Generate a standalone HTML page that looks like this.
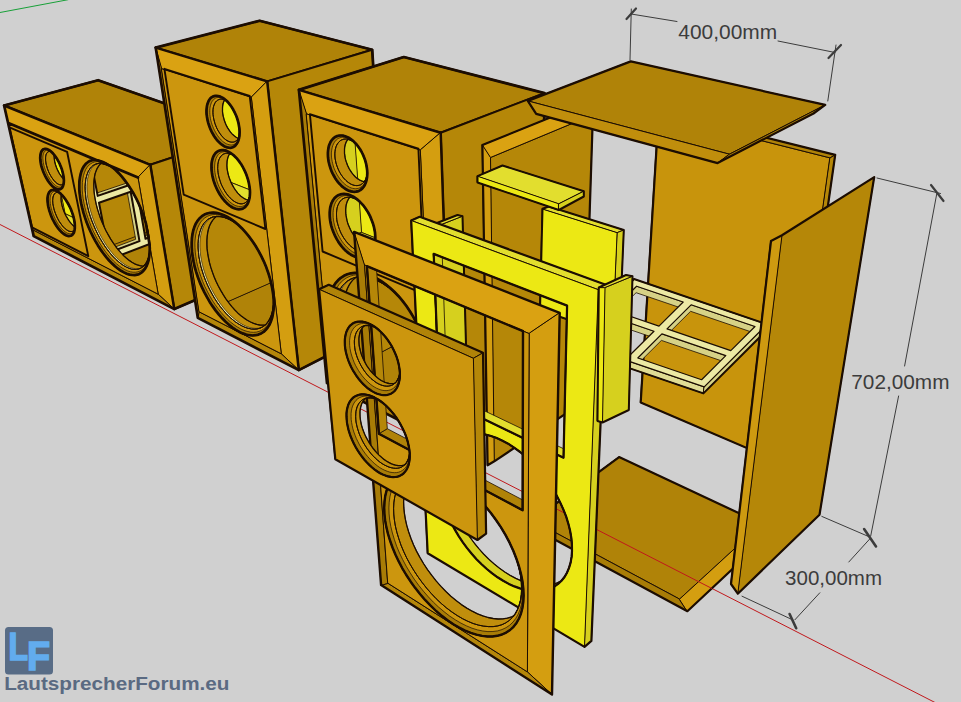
<!DOCTYPE html>
<html><head><meta charset="utf-8"><title>LautsprecherForum.eu</title>
<style>html,body{margin:0;padding:0;background:#D0D0D0;overflow:hidden}svg{display:block}text{font-family:"Liberation Sans",sans-serif}</style></head>
<body>
<svg width="961" height="702" viewBox="0 0 961 702" stroke-linejoin="round" stroke-linecap="round">
<rect width="961" height="702" fill="#D0D0D0"/>
<path d="M0,224.5 L936,703" stroke="#c0181c" stroke-width="1" fill="none"/>
<path d="M-1,12.7 L68,-0.3" stroke="#18a038" stroke-width="1" fill="none"/>
<path d="M97.1,89.3 238.4,139.7 254,264.5 118.1,203.2Z" fill="#CC960E" stroke="#1c0d02" stroke-width="0.8"/>
<path d="M9,113.4 97.1,89.3 118.1,203.2 35.7,231.9Z" fill="#B58708" stroke="#1c0d02" stroke-width="0.8"/>
<path d="M35.7,231.9 169,300.5 254,264.5 118.1,203.2Z" fill="#B08308" stroke="#1c0d02" stroke-width="0.8"/>
<path d="M46.2,122.7 99.9,144.5 117.6,239 65.2,213.7Z" fill="#ECE814" stroke="#1c0d02" stroke-width="0.8"/>
<path d="M18.7,130.6 46.2,122.7 65.2,213.7 39.2,222.7Z" fill="#D6D01E" stroke="#1c0d02" stroke-width="0.8"/>
<path d="M39.2,222.7 91.2,248.9 117.6,239 65.2,213.7Z" fill="#E2DE2E" stroke="#1c0d02" stroke-width="0.8"/>
<path d="M69.6,141.7 134.3,122.2 152.7,230.1 91.9,252.8Z" fill="#B58708" stroke="#1c0d02" stroke-width="0.8"/>
<path d="M108.7,252.7 139.5,241.1 130.7,191.7 127.4,192.9 135.7,239.3 108.1,249.7Z" fill="#D6D286" stroke="#1c0d02" stroke-width="0.8"/>
<path d="M145.5,238.8 174.9,227.7 167.1,179.2 163.7,180.4 171.1,226 144.9,235.8Z" fill="#D6D286" stroke="#1c0d02" stroke-width="0.8"/>
<path d="M97.7,195.9 129.5,185 120.3,133 116.9,134 125.7,183.4 97.1,193Z" fill="#D6D286" stroke="#1c0d02" stroke-width="0.8"/>
<path d="M135.7,182.9 166.1,172.6 157.9,121.5 154.4,122.6 162.2,171 135.2,180.1Z" fill="#D6D286" stroke="#1c0d02" stroke-width="0.8"/>
<path d="M79.4,137.8 162.9,112.7 181.6,231.8 103.7,261.6ZM99,202.7 130.7,191.7 139.5,241.1 108.7,252.7ZM136.9,189.6 167.1,179.2 174.9,227.7 145.5,238.8ZM87.5,143 120.3,133 129.5,185 97.7,195.9ZM126.7,131 157.9,121.5 166.1,172.6 135.7,182.9Z" fill="#ECE9A4" fill-rule="evenodd" stroke="#1c0d02" stroke-width="2"/>
<path d="M4.1,105.5 150.3,164.8 247.9,132.4 98.1,80.2Z" fill="#B08308" stroke="#1c0d02" stroke-width="2"/>
<path d="M150.3,164.8 247.9,132.4 264.5,270.3 174.3,309.1Z" fill="#B58708" stroke="#1c0d02" stroke-width="2"/>
<path d="M4.1,105.5 150.3,164.8 138,177.6 8.3,123Z" fill="#DAA212" stroke="#1c0d02" stroke-width="1"/>
<path d="M150.3,164.8 174.3,309.1 158.2,294.2 138,177.6Z" fill="#D49E10" stroke="#1c0d02" stroke-width="1"/>
<path d="M33.7,236.1 174.3,309.1 158.2,294.2 32.4,229.6Z" fill="#B4860A" stroke="#1c0d02" stroke-width="1"/>
<path d="M4.1,105.5 33.7,236.1 32.4,229.6 8.3,123Z" fill="#A87C06" stroke="#1c0d02" stroke-width="1"/>
<path d="M8.3,123 32.4,229.6 158.2,294.2 149.6,244.8 149.8,248.6 149.6,252.8 149.2,256.7 148.6,260.3 147.6,263.5 146.4,266.4 145,268.9 143.3,270.9 141.5,272.6 139.4,273.9 137.2,274.7 134.7,275.1 132.2,275 129.5,274.6 126.7,273.7 123.9,272.4 121,270.8 118,268.7 115,266.3 112.1,263.6 109.1,260.5 106.2,257.1 103.4,253.5 100.6,249.6 97.9,245.4 95.4,241.1 93,236.6 90.7,232 88.6,227.3 86.7,222.5 85,217.6 83.5,212.8 82.2,207.9 81.1,203.2 80.3,198.5 79.7,193.9 79.3,189.6 79.3,185.3 79.4,181.4 79.9,177.6 80.6,174.2 81.5,171.1 82.7,168.3 84.2,165.8 85.8,163.8 87.8,162.2 89.9,160.9 92.2,160.2 94.7,159.8 95.9,159.9ZM74.1,219.5 74.4,221.4 74.7,223.2 74.8,225 74.8,226.7 74.8,228.3 74.6,229.7 74.3,231.1 74,232.3 73.5,233.3 72.9,234.2 72.3,234.9 71.5,235.5 70.7,235.8 69.8,236 68.9,236.1 67.9,235.9 66.8,235.6 65.7,235.2 64.6,234.5 63.4,233.7 62.3,232.8 61.1,231.7 59.9,230.4 58.8,229.1 57.6,227.6 56.5,226 55.4,224.3 54.4,222.5 53.4,220.7 52.4,218.8 51.6,216.9 50.8,214.9 50.1,212.9 49.4,210.9 48.9,209 48.4,207 48,205.1 47.8,203.3 47.6,201.5 47.5,199.8 47.5,198.2 47.7,196.8 47.9,195.4 48.3,194.2 48.7,193.1 49.2,192.1 49.9,191.4 50.6,190.7 51.4,190.3 52.2,190 53.2,189.9 54.2,190 55.2,190.3 56.3,190.7 57.5,191.3 58.6,192.1 59.8,193 61,194.1 62.3,195.4 63.5,196.8 64.6,198.3 65.8,199.9 66.9,201.7 68,203.5 69,205.4 70,207.3 70.9,209.3 71.7,211.4 72.4,213.4 73.1,215.5 73.6,217.5ZM63.1,174.2 63.4,176 63.7,177.6 63.8,179.2 63.9,180.7 63.8,182.1 63.7,183.4 63.4,184.6 63.1,185.7 62.7,186.7 62.3,187.5 61.7,188.2 61.1,188.7 60.4,189.1 59.6,189.3 58.8,189.4 57.9,189.4 57,189.1 56.1,188.8 55.1,188.2 54.1,187.6 53.1,186.8 52.1,185.9 51.1,184.8 50.1,183.6 49.1,182.4 48.1,181 47.2,179.5 46.3,178 45.4,176.4 44.6,174.7 43.8,173 43.1,171.3 42.5,169.6 41.9,167.8 41.4,166.1 41,164.4 40.7,162.7 40.5,161 40.3,159.5 40.2,158 40.3,156.5 40.4,155.2 40.6,154 40.9,152.9 41.2,151.9 41.7,151 42.2,150.3 42.8,149.7 43.5,149.2 44.2,149 45.1,148.8 45.9,148.9 46.8,149 47.8,149.4 48.8,149.9 49.8,150.5 50.8,151.3 51.8,152.2 52.9,153.3 53.9,154.5 54.9,155.8 55.9,157.2 56.9,158.7 57.8,160.3 58.7,161.9 59.6,163.6 60.3,165.4 61,167.1 61.7,168.9 62.2,170.7 62.7,172.5ZM146,223.7 138,177.6 110.9,166.2 112.4,167.3 115.6,170 118.8,173.2 121.9,176.7 125,180.6 128,184.7 130.9,189.2 133.7,193.8 136.3,198.7 138.7,203.7 140.9,208.9 142.9,214 144.7,219.3Z" fill="#CC960E" fill-rule="evenodd" stroke="#1c0d02" stroke-width="1"/>
<path d="M9.4,127.3 67.1,151.8 88.3,256.2 32,227.4Z" fill="none" stroke="#1c0d02" stroke-width="1.9"/>
<path d="M50.8,151.3 49.8,150.5 48.8,149.9 47.8,149.4 46.8,149 45.9,148.9 45.1,148.8 44.2,149 43.5,149.2 42.8,149.7 42.2,150.3 41.7,151 41.2,151.9 40.9,152.9 40.6,154 40.4,155.2 40.3,156.5 40.2,158 40.3,159.5 40.5,161 40.7,162.7 41,164.4 41.4,166.1 41.9,167.8 42.5,169.6 43.1,171.3 43.8,173 44.6,174.7 45.4,176.4 46.3,178 47.2,179.5 48.1,181 49.1,182.4 50.1,183.6 51.1,184.8 52.1,185.9 53.1,186.8 54.1,187.6 55.1,188.2 56.1,188.8 57,189.1 57.9,189.4 58.8,189.4 59.6,189.3 60.4,189.1 61.1,188.7 61.7,188.2 62.3,187.5 62.7,186.7 63.1,185.7 63.4,184.6 63.7,183.4 63.7,183.3 63.3,183.8 62.8,184.2 62.2,184.6 61.6,184.8 60.9,184.8 60.2,184.8 59.4,184.6 58.6,184.3 57.8,183.9 57,183.3 56.2,182.7 55.3,181.9 54.5,181.1 53.7,180.1 52.9,179 52,177.9 51.3,176.7 50.5,175.4 49.8,174.1 49.1,172.8 48.5,171.4 47.9,169.9 47.4,168.5 47,167 46.6,165.6 46.2,164.2 46,162.8 45.8,161.5 45.6,160.2 45.6,158.9 45.6,157.7 45.7,156.6 45.9,155.6 46.1,154.7 46.4,153.9 46.8,153.2 47.2,152.6 47.8,152.1 48.3,151.8 48.9,151.5 49.6,151.4 50.3,151.5 51.1,151.6 51.2,151.6Z" fill="#A87C06" stroke="#1c0d02" stroke-width="0.7"/>
<path d="M50.8,151.3 50.1,150.8 49.8,150.6 48.9,150.3 48.1,150.2 47.3,150.1 46.6,150.2 45.9,150.5 45.3,150.9 44.7,151.4 44.2,152.1 43.8,152.9 43.5,153.8 43.2,154.8 43,155.9 42.9,157.1 42.9,158.4 43,159.8 43.1,161.2 43.3,162.7 43.6,164.3 44,165.8 44.4,167.4 45,169 45.5,170.6 46.2,172.2 46.9,173.7 47.6,175.3 48.4,176.7 49.2,178.1 50.1,179.5 51,180.7 51.9,181.9 52.8,182.9 53.7,183.9 54.7,184.7 55.6,185.5 56.5,186.1 57.4,186.5 58.2,186.9 59.1,187.1 59.8,187.1 60.6,187.1 61.3,186.8 61.9,186.5 62.5,186 63,185.4 63.4,184.6 63.5,184.5 63.7,183.4 63.7,183.3 63.3,183.8 62.8,184.2 62.2,184.6 61.6,184.8 60.9,184.8 60.2,184.8 59.4,184.6 58.6,184.3 57.8,183.9 57,183.3 56.2,182.7 55.3,181.9 54.5,181.1 53.7,180.1 52.9,179 52,177.9 51.3,176.7 50.5,175.4 49.8,174.1 49.1,172.8 48.5,171.4 47.9,169.9 47.4,168.5 47,167 46.6,165.6 46.2,164.2 46,162.8 45.8,161.5 45.6,160.2 45.6,158.9 45.6,157.7 45.7,156.6 45.9,155.6 46.1,154.7 46.4,153.9 46.8,153.2 47.2,152.6 47.8,152.1 48.3,151.8 48.9,151.5 49.6,151.4 50.3,151.5 51.1,151.6 51.2,151.6Z" fill="#CC960E" stroke="#1c0d02" stroke-width="0.7"/>
<path d="M53.9,154.5 52.9,153.3 51.8,152.2 51.2,151.6 51.1,151.6 50.3,151.5 49.6,151.4 48.9,151.5 48.3,151.8 47.8,152.1 47.2,152.6 46.8,153.2 46.4,153.9 46.1,154.7 45.9,155.6 45.7,156.6 45.6,157.7 45.6,158.9 45.6,160.2 45.8,161.5 46,162.8 46.2,164.2 46.6,165.6 47,167 47.4,168.5 47.9,169.9 48.5,171.4 49.1,172.8 49.8,174.1 50.5,175.4 51.3,176.7 52,177.9 52.9,179 53.7,180.1 54.5,181.1 55.3,181.9 56.2,182.7 57,183.3 57.8,183.9 58.6,184.3 59.4,184.6 60.2,184.8 60.9,184.8 61.6,184.8 62.2,184.6 62.8,184.2 63.3,183.8 63.7,183.3 63.8,182.1 63.9,180.7 63.8,179.2 63.8,179.2 62.9,178.3 62.1,177.4 61.3,176.3 60.5,175.2 59.7,174 59,172.8 58.3,171.4 57.6,170.1 57,168.7 56.4,167.3 55.9,165.8 55.4,164.4 55.1,163 54.7,161.6 54.5,160.2 54.3,158.8 54.2,157.5 54.1,156.3 54.1,155.1 54.2,154.8Z" fill="#C08E0C" stroke="#1c0d02" stroke-width="0.7"/>
<path d="M62.2,170.7 61.7,168.9 61,167.1 60.3,165.4 59.6,163.6 58.7,161.9 57.8,160.3 56.9,158.7 55.9,157.2 54.9,155.8 54.2,154.8 54.1,155.1 54.1,156.3 54.2,157.5 54.3,158.8 54.5,160.2 54.7,161.6 55.1,163 55.4,164.4 55.9,165.8 56.4,167.3 57,168.7 57.6,170.1 58.3,171.4 59,172.8 59.7,174 60.5,175.2 61.3,176.3 62.1,177.4 62.9,178.3 63.8,179.2 63.8,179.2 63.8,179.2 63.7,177.6 63.4,176 63.1,174.2 62.7,172.5Z" fill="none" stroke="#1c0d02" stroke-width="1.3"/>
<path d="M62.7,172.5 62.2,170.7 61.7,168.9 61,167.1 60.3,165.4 59.6,163.6 58.7,161.9 57.8,160.3 56.9,158.7 55.9,157.2 54.9,155.8 53.9,154.5 52.9,153.3 51.8,152.2 51.2,151.6 51.1,151.6 50.3,151.5 49.6,151.4 48.9,151.5 48.3,151.8 47.8,152.1 47.2,152.6 46.8,153.2 46.4,153.9 46.1,154.7 45.9,155.6 45.7,156.6 45.6,157.7 45.6,158.9 45.6,160.2 45.8,161.5 46,162.8 46.2,164.2 46.6,165.6 47,167 47.4,168.5 47.9,169.9 48.5,171.4 49.1,172.8 49.8,174.1 50.5,175.4 51.3,176.7 52,177.9 52.9,179 53.7,180.1 54.5,181.1 55.3,181.9 56.2,182.7 57,183.3 57.8,183.9 58.6,184.3 59.4,184.6 60.2,184.8 60.9,184.8 61.6,184.8 62.2,184.6 62.8,184.2 63.3,183.8 63.7,183.3 63.8,182.1 63.9,180.7 63.8,179.2 63.7,177.6 63.4,176 63.1,174.2Z" fill="none" stroke="#1c0d02" stroke-width="1"/>
<path d="M63.1,174.2 62.7,172.5 62.2,170.7 61.7,168.9 61,167.1 60.3,165.4 59.6,163.6 58.7,161.9 57.8,160.3 56.9,158.7 55.9,157.2 54.9,155.8 53.9,154.5 52.9,153.3 51.8,152.2 50.8,151.3 49.8,150.5 48.8,149.9 47.8,149.4 46.8,149 45.9,148.9 45.1,148.8 44.2,149 43.5,149.2 42.8,149.7 42.2,150.3 41.7,151 41.2,151.9 40.9,152.9 40.6,154 40.4,155.2 40.3,156.5 40.2,158 40.3,159.5 40.5,161 40.7,162.7 41,164.4 41.4,166.1 41.9,167.8 42.5,169.6 43.1,171.3 43.8,173 44.6,174.7 45.4,176.4 46.3,178 47.2,179.5 48.1,181 49.1,182.4 50.1,183.6 51.1,184.8 52.1,185.9 53.1,186.8 54.1,187.6 55.1,188.2 56.1,188.8 57,189.1 57.9,189.4 58.8,189.4 59.6,189.3 60.4,189.1 61.1,188.7 61.7,188.2 62.3,187.5 62.7,186.7 63.1,185.7 63.4,184.6 63.7,183.4 63.8,182.1 63.9,180.7 63.8,179.2 63.7,177.6 63.4,176Z" fill="none" stroke="#1c0d02" stroke-width="1.6"/>
<path d="M58.6,192.1 57.5,191.3 56.3,190.7 55.2,190.3 54.2,190 53.2,189.9 52.2,190 51.4,190.3 50.6,190.7 49.9,191.4 49.2,192.1 48.7,193.1 48.3,194.2 47.9,195.4 47.7,196.8 47.5,198.2 47.5,199.8 47.6,201.5 47.8,203.3 48,205.1 48.4,207 48.9,209 49.4,210.9 50.1,212.9 50.8,214.9 51.6,216.9 52.4,218.8 53.4,220.7 54.4,222.5 55.4,224.3 56.5,226 57.6,227.6 58.8,229.1 59.9,230.4 61.1,231.7 62.3,232.8 63.4,233.7 64.6,234.5 65.7,235.2 66.8,235.6 67.9,235.9 68.9,236.1 69.8,236 70.7,235.8 71.5,235.5 72.3,234.9 72.9,234.2 73.5,233.3 74,232.3 74.3,231.1 74.6,229.7 74.6,229.4 74.3,229.9 73.8,230.5 73.2,231 72.5,231.3 71.7,231.5 70.9,231.5 70,231.4 69.2,231.2 68.2,230.8 67.3,230.2 66.3,229.6 65.3,228.8 64.3,227.8 63.3,226.8 62.3,225.6 61.3,224.3 60.4,223 59.4,221.6 58.5,220.1 57.7,218.5 56.9,216.9 56.2,215.2 55.5,213.6 54.9,211.9 54.3,210.2 53.9,208.5 53.5,206.8 53.2,205.2 52.9,203.7 52.8,202.2 52.7,200.7 52.8,199.4 52.9,198.1 53.1,197 53.4,195.9 53.8,195 54.2,194.2 54.8,193.6 55.4,193 56.1,192.7 56.8,192.4 57.6,192.3 58.5,192.4 59.3,192.6Z" fill="#A87C06" stroke="#1c0d02" stroke-width="0.7"/>
<path d="M58.6,192.1 58.3,191.8 57.3,191.5 56.3,191.2 55.4,191.1 54.5,191.2 53.7,191.5 53,191.9 52.3,192.5 51.7,193.2 51.2,194 50.8,195 50.5,196.2 50.3,197.4 50.2,198.8 50.1,200.3 50.2,201.8 50.3,203.5 50.6,205.2 50.9,206.9 51.4,208.7 51.9,210.6 52.5,212.4 53.1,214.2 53.9,216 54.7,217.8 55.5,219.6 56.5,221.3 57.4,222.9 58.4,224.5 59.5,226 60.5,227.3 61.6,228.6 62.7,229.7 63.8,230.8 64.9,231.6 65.9,232.4 67,233 68,233.4 69,233.7 69.9,233.8 70.8,233.8 71.6,233.6 72.3,233.2 73,232.7 73.6,232 74.2,231.2 74.4,230.6 74.6,229.7 74.6,229.4 74.3,229.9 73.8,230.5 73.2,231 72.5,231.3 71.7,231.5 70.9,231.5 70,231.4 69.2,231.2 68.2,230.8 67.3,230.2 66.3,229.6 65.3,228.8 64.3,227.8 63.3,226.8 62.3,225.6 61.3,224.3 60.4,223 59.4,221.6 58.5,220.1 57.7,218.5 56.9,216.9 56.2,215.2 55.5,213.6 54.9,211.9 54.3,210.2 53.9,208.5 53.5,206.8 53.2,205.2 52.9,203.7 52.8,202.2 52.7,200.7 52.8,199.4 52.9,198.1 53.1,197 53.4,195.9 53.8,195 54.2,194.2 54.8,193.6 55.4,193 56.1,192.7 56.8,192.4 57.6,192.3 58.5,192.4 59.3,192.6Z" fill="#CC960E" stroke="#1c0d02" stroke-width="0.7"/>
<path d="M61,194.1 59.8,193 59.3,192.6 58.5,192.4 57.6,192.3 56.8,192.4 56.1,192.7 55.4,193 54.8,193.6 54.2,194.2 53.8,195 53.4,195.9 53.1,197 52.9,198.1 52.8,199.4 52.7,200.7 52.8,202.2 52.9,203.7 53.2,205.2 53.5,206.8 53.9,208.5 54.3,210.2 54.9,211.9 55.5,213.6 56.2,215.2 56.9,216.9 57.7,218.5 58.5,220.1 59.4,221.6 60.4,223 61.3,224.3 62.3,225.6 63.3,226.8 64.3,227.8 65.3,228.8 66.3,229.6 67.3,230.2 68.2,230.8 69.2,231.2 70,231.4 70.9,231.5 71.7,231.5 72.5,231.3 73.2,231 73.8,230.5 74.3,229.9 74.6,229.4 74.8,228.3 74.8,226.9 74.5,226.7 73.5,225.8 72.5,224.9 71.5,223.9 70.5,222.7 69.5,221.5 68.6,220.1 67.7,218.7 66.8,217.2 65.9,215.6 65.1,214 64.4,212.4 63.7,210.7 63.1,209 62.6,207.4 62.1,205.7 61.8,204.1 61.4,202.4 61.2,200.9 61.1,199.4 61.1,198 61.1,196.6 61.2,195.4 61.4,194.5Z" fill="#C08E0C" stroke="#1c0d02" stroke-width="0.7"/>
<path d="M73.1,215.5 72.4,213.4 71.7,211.4 70.9,209.3 70,207.3 69,205.4 68,203.5 66.9,201.7 65.8,199.9 64.6,198.3 63.5,196.8 62.3,195.4 61.4,194.5 61.2,195.4 61.1,196.6 61.1,198 61.1,199.4 61.2,200.9 61.4,202.4 61.8,204.1 62.1,205.7 62.6,207.4 63.1,209 63.7,210.7 64.4,212.4 65.1,214 65.9,215.6 66.8,217.2 67.7,218.7 68.6,220.1 69.5,221.5 70.5,222.7 71.5,223.9 72.5,224.9 73.5,225.8 74.5,226.7 74.8,226.9 74.8,226.7 74.8,225 74.7,223.2 74.4,221.4 74.1,219.5 73.6,217.5Z" fill="none" stroke="#1c0d02" stroke-width="1.3"/>
<path d="M73.6,217.5 73.1,215.5 72.4,213.4 71.7,211.4 70.9,209.3 70,207.3 69,205.4 68,203.5 66.9,201.7 65.8,199.9 64.6,198.3 63.5,196.8 62.3,195.4 61,194.1 59.8,193 59.3,192.6 58.5,192.4 57.6,192.3 56.8,192.4 56.1,192.7 55.4,193 54.8,193.6 54.2,194.2 53.8,195 53.4,195.9 53.1,197 52.9,198.1 52.8,199.4 52.7,200.7 52.8,202.2 52.9,203.7 53.2,205.2 53.5,206.8 53.9,208.5 54.3,210.2 54.9,211.9 55.5,213.6 56.2,215.2 56.9,216.9 57.7,218.5 58.5,220.1 59.4,221.6 60.4,223 61.3,224.3 62.3,225.6 63.3,226.8 64.3,227.8 65.3,228.8 66.3,229.6 67.3,230.2 68.2,230.8 69.2,231.2 70,231.4 70.9,231.5 71.7,231.5 72.5,231.3 73.2,231 73.8,230.5 74.3,229.9 74.6,229.4 74.8,228.3 74.8,226.7 74.8,225 74.7,223.2 74.4,221.4 74.1,219.5Z" fill="none" stroke="#1c0d02" stroke-width="1"/>
<path d="M74.1,219.5 73.6,217.5 73.1,215.5 72.4,213.4 71.7,211.4 70.9,209.3 70,207.3 69,205.4 68,203.5 66.9,201.7 65.8,199.9 64.6,198.3 63.5,196.8 62.3,195.4 61,194.1 59.8,193 58.6,192.1 57.5,191.3 56.3,190.7 55.2,190.3 54.2,190 53.2,189.9 52.2,190 51.4,190.3 50.6,190.7 49.9,191.4 49.2,192.1 48.7,193.1 48.3,194.2 47.9,195.4 47.7,196.8 47.5,198.2 47.5,199.8 47.6,201.5 47.8,203.3 48,205.1 48.4,207 48.9,209 49.4,210.9 50.1,212.9 50.8,214.9 51.6,216.9 52.4,218.8 53.4,220.7 54.4,222.5 55.4,224.3 56.5,226 57.6,227.6 58.8,229.1 59.9,230.4 61.1,231.7 62.3,232.8 63.4,233.7 64.6,234.5 65.7,235.2 66.8,235.6 67.9,235.9 68.9,236.1 69.8,236 70.7,235.8 71.5,235.5 72.3,234.9 72.9,234.2 73.5,233.3 74,232.3 74.3,231.1 74.6,229.7 74.8,228.3 74.8,226.7 74.8,225 74.7,223.2 74.4,221.4Z" fill="none" stroke="#1c0d02" stroke-width="1.6"/>
<path d="M115.6,170 112.4,167.3 109.2,164.9 106.1,163 103.1,161.5 100.2,160.5 97.4,159.9 94.7,159.8 92.2,160.2 89.9,160.9 87.8,162.2 85.8,163.8 84.2,165.8 82.7,168.3 81.5,171.1 80.6,174.2 79.9,177.6 79.4,181.4 79.3,185.3 79.3,189.6 79.7,193.9 80.3,198.5 81.1,203.2 82.2,207.9 83.5,212.8 85,217.6 86.7,222.5 88.6,227.3 90.7,232 93,236.6 95.4,241.1 97.9,245.4 100.6,249.6 103.4,253.5 106.2,257.1 109.1,260.5 112.1,263.6 115,266.3 118,268.7 121,270.8 123.9,272.4 126.7,273.7 129.5,274.6 132.2,275 134.7,275.1 137.2,274.7 139.4,273.9 141.5,272.6 143.3,270.9 145,268.9 146.4,266.4 147.6,263.5 148.6,260.3 149.2,256.7 149.6,252.8 149.6,252.6 149.1,255.6 148.2,258.6 147.1,261.3 145.8,263.6 144.3,265.5 142.5,267.1 140.6,268.2 138.6,269 136.3,269.4 134,269.4 131.5,269 129,268.2 126.3,267 123.6,265.5 120.9,263.6 118.2,261.4 115.4,258.9 112.7,256.1 110,253 107.4,249.6 104.8,246 102.4,242.2 100,238.2 97.8,234.1 95.7,229.8 93.8,225.4 92,221 90.4,216.5 89,212.1 87.9,207.6 86.9,203.2 86.1,198.9 85.6,194.7 85.3,190.7 85.2,186.8 85.4,183.1 85.8,179.7 86.5,176.6 87.4,173.7 88.5,171.1 89.9,168.9 91.4,167 93.2,165.5 95.2,164.4 97.3,163.7 99.6,163.4 102.1,163.5 104.7,164.1 107.4,165 110.2,166.4 113,168.1 115.6,170.1Z" fill="#A87C06" stroke="#1c0d02" stroke-width="0.7"/>
<path d="M115.6,170 114,168.7 111.1,166.5 108.2,164.7 105.2,163.3 102.4,162.3 99.7,161.7 97.2,161.6 94.8,161.9 92.5,162.7 90.5,163.9 88.6,165.4 87,167.4 85.6,169.7 84.5,172.4 83.5,175.4 82.9,178.7 82.4,182.3 82.3,186.1 82.3,190.1 82.6,194.3 83.2,198.7 84,203.2 85,207.8 86.2,212.4 87.7,217.1 89.4,221.7 91.2,226.4 93.2,230.9 95.4,235.3 97.7,239.7 100.2,243.8 102.7,247.8 105.4,251.5 108.1,255 110.9,258.3 113.7,261.2 116.6,263.9 119.5,266.2 122.3,268.1 125.1,269.7 127.9,271 130.5,271.8 133.1,272.2 135.5,272.2 137.9,271.8 140,271 142,269.8 143.8,268.2 145.4,266.2 146.8,263.8 147.9,261.1 148.8,258 149.4,254.6 149.6,252.8 149.6,252.6 149.1,255.6 148.2,258.6 147.1,261.3 145.8,263.6 144.3,265.5 142.5,267.1 140.6,268.2 138.6,269 136.3,269.4 134,269.4 131.5,269 129,268.2 126.3,267 123.6,265.5 120.9,263.6 118.2,261.4 115.4,258.9 112.7,256.1 110,253 107.4,249.6 104.8,246 102.4,242.2 100,238.2 97.8,234.1 95.7,229.8 93.8,225.4 92,221 90.4,216.5 89,212.1 87.9,207.6 86.9,203.2 86.1,198.9 85.6,194.7 85.3,190.7 85.2,186.8 85.4,183.1 85.8,179.7 86.5,176.6 87.4,173.7 88.5,171.1 89.9,168.9 91.4,167 93.2,165.5 95.2,164.4 97.3,163.7 99.6,163.4 102.1,163.5 104.7,164.1 107.4,165 110.2,166.4 113,168.1 115.6,170.1Z" fill="#CC960E" stroke="#1c0d02" stroke-width="0.7"/>
<path d="M99.6,163.4 97.3,163.7 95.2,164.4 93.2,165.5 91.4,167 89.9,168.9 88.5,171.1 87.4,173.7 86.5,176.6 85.8,179.7 85.4,183.1 85.2,186.8 85.3,190.7 85.6,194.7 86.1,198.9 86.9,203.2 87.9,207.6 89,212.1 90.4,216.5 92,221 93.8,225.4 95.7,229.8 97.8,234.1 100,238.2 102.4,242.2 104.8,246 107.4,249.6 110,253 112.7,256.1 115.4,258.9 118.2,261.4 120.9,263.6 123.6,265.5 126.3,267 129,268.2 131.5,269 134,269.4 136.3,269.4 138.6,269 140.6,268.2 142.5,267.1 143.6,266.1 142.3,266.1 139.9,265.7 137.3,264.9 134.6,263.8 131.9,262.3 129.2,260.4 126.5,258.2 123.7,255.7 121,252.9 118.3,249.8 115.7,246.5 113.2,242.9 110.7,239.1 108.4,235.1 106.1,231 104.1,226.8 102.2,222.4 100.4,218 98.9,213.6 97.5,209.1 96.3,204.7 95.4,200.3 94.6,196 94.1,191.8 93.9,187.8 93.8,184 94,180.3 94.5,176.9 95.1,173.7 96.1,170.9 97.2,168.3 98.6,166.1 100.2,164.2 101,163.5Z" fill="#C08E0C" stroke="#1c0d02" stroke-width="0.7"/>
<path d="M97.3,163.7 95.2,164.4 93.2,165.5 91.4,167 89.9,168.9 88.5,171.1 87.4,173.7 86.5,176.6 85.8,179.7 85.4,183.1 85.2,186.8 85.3,190.7 85.6,194.7 86.1,198.9 86.9,203.2 87.9,207.6 89,212.1 90.4,216.5 92,221 93.8,225.4 95.7,229.8 97.8,234.1 100,238.2 102.4,242.2 104.8,246 107.4,249.6 110,253 112.7,256.1 115.4,258.9 118.2,261.4 120.9,263.6 123.6,265.5 126.3,267 129,268.2 131.5,269 134,269.4 136.3,269.4 138.6,269 140.6,268.2 140.8,268.1 140.2,268.4 138,268.8 135.6,268.7 133.1,268.3 130.6,267.6 127.9,266.4 125.2,264.9 122.5,263 119.8,260.8 117,258.3 114.3,255.5 111.6,252.3 109,249 106.4,245.4 104,241.6 101.6,237.6 99.4,233.5 97.3,229.2 95.4,224.9 93.6,220.4 92.1,216 90.7,211.5 89.5,207 88.5,202.7 87.8,198.4 87.2,194.2 87,190.1 86.9,186.3 87.1,182.6 87.5,179.2 88.2,176 89.1,173.1 90.2,170.6 91.5,168.4 93.1,166.5 94.9,165 96.9,163.9 97.4,163.7Z" fill="#ECE9A4" stroke="#1c0d02" stroke-width="0.6"/>
<path d="M146.2,224.5 144.7,219.3 142.9,214 140.9,208.9 138.7,203.7 136.3,198.7 133.7,193.8 130.9,189.2 128,184.7 125,180.6 121.9,176.7 118.8,173.2 115.6,170.1 113,168.1 110.2,166.4 107.4,165 104.7,164.1 102.1,163.5 101,163.5 100.2,164.2 98.6,166.1 97.2,168.3 96.1,170.9 95.1,173.7 94.5,176.9 94,180.3 93.8,184 93.9,187.8 94.1,191.8 94.6,196 95.4,200.3 96.3,204.7 97.5,209.1 98.9,213.6 100.4,218 102.2,222.4 104.1,226.8 106.1,231 108.4,235.1 110.7,239.1 113.2,242.9 115.7,246.5 118.3,249.8 121,252.9 123.7,255.7 126.5,258.2 129.2,260.4 131.9,262.3 134.6,263.8 137.3,264.9 139.9,265.7 142.3,266.1 143.6,266.1 144.3,265.5 145.8,263.6 147.1,261.3 148.2,258.6 149.1,255.6 149.6,252.6 149.8,248.6 149.6,244.1 149.2,239.5 148.5,234.6 147.5,229.6Z" fill="none" stroke="#1c0d02" stroke-width="1.3"/>
<path d="M147.5,229.6 146.2,224.5 144.7,219.3 142.9,214 140.9,208.9 138.7,203.7 136.3,198.7 133.7,193.8 130.9,189.2 128,184.7 125,180.6 121.9,176.7 118.8,173.2 115.6,170.1 113,168.1 110.2,166.4 107.4,165 104.7,164.1 102.1,163.5 99.6,163.4 97.3,163.7 95.2,164.4 93.2,165.5 91.4,167 89.9,168.9 88.5,171.1 87.4,173.7 86.5,176.6 85.8,179.7 85.4,183.1 85.2,186.8 85.3,190.7 85.6,194.7 86.1,198.9 86.9,203.2 87.9,207.6 89,212.1 90.4,216.5 92,221 93.8,225.4 95.7,229.8 97.8,234.1 100,238.2 102.4,242.2 104.8,246 107.4,249.6 110,253 112.7,256.1 115.4,258.9 118.2,261.4 120.9,263.6 123.6,265.5 126.3,267 129,268.2 131.5,269 134,269.4 136.3,269.4 138.6,269 140.6,268.2 142.5,267.1 144.3,265.5 145.8,263.6 147.1,261.3 148.2,258.6 149.1,255.6 149.6,252.6 149.8,248.6 149.6,244.1 149.2,239.5 148.5,234.6Z" fill="none" stroke="#1c0d02" stroke-width="1"/>
<path d="M148.5,234.6 147.5,229.6 146.2,224.5 144.7,219.3 142.9,214 140.9,208.9 138.7,203.7 136.3,198.7 133.7,193.8 130.9,189.2 128,184.7 125,180.6 121.9,176.7 118.8,173.2 115.6,170 112.4,167.3 109.2,164.9 106.1,163 103.1,161.5 100.2,160.5 97.4,159.9 94.7,159.8 92.2,160.2 89.9,160.9 87.8,162.2 85.8,163.8 84.2,165.8 82.7,168.3 81.5,171.1 80.6,174.2 79.9,177.6 79.4,181.4 79.3,185.3 79.3,189.6 79.7,193.9 80.3,198.5 81.1,203.2 82.2,207.9 83.5,212.8 85,217.6 86.7,222.5 88.6,227.3 90.7,232 93,236.6 95.4,241.1 97.9,245.4 100.6,249.6 103.4,253.5 106.2,257.1 109.1,260.5 112.1,263.6 115,266.3 118,268.7 121,270.8 123.9,272.4 126.7,273.7 129.5,274.6 132.2,275 134.7,275.1 137.2,274.7 139.4,273.9 141.5,272.6 143.3,270.9 145,268.9 146.4,266.4 147.6,263.5 148.6,260.3 149.2,256.7 149.6,252.8 149.8,248.6 149.6,244.1 149.2,239.5Z" fill="none" stroke="#1c0d02" stroke-width="1.6"/>
<path d="M4.1,105.5 L150.3,164.8" stroke="#1c0d02" stroke-width="2.5" fill="none"/>
<path d="M150.3,164.8 L174.3,309.1" stroke="#1c0d02" stroke-width="2.5" fill="none"/>
<path d="M4.1,105.5 33.7,236.1 174.3,309.1 264.5,270.3 247.9,132.4 98.1,80.2ZM138,177.6 110.9,166.2 112.4,167.3 115.6,170 118.8,173.2 121.9,176.7 125,180.6 128,184.7 130.9,189.2 133.7,193.8 136.3,198.7 138.7,203.7 140.9,208.9 142.9,214 144.7,219.3 146,223.7 149.6,244.8 149.8,248.6 149.6,252.8 149.2,256.7 148.6,260.3 147.6,263.5 146.4,266.4 145,268.9 143.3,270.9 141.5,272.6 139.4,273.9 137.2,274.7 134.7,275.1 132.2,275 129.5,274.6 126.7,273.7 123.9,272.4 121,270.8 118,268.7 115,266.3 112.1,263.6 109.1,260.5 106.2,257.1 103.4,253.5 100.6,249.6 97.9,245.4 95.4,241.1 93,236.6 90.7,232 88.6,227.3 86.7,222.5 85,217.6 83.5,212.8 82.2,207.9 81.1,203.2 80.3,198.5 79.7,193.9 79.3,189.6 79.3,185.3 79.4,181.4 79.9,177.6 80.6,174.2 81.5,171.1 82.7,168.3 84.2,165.8 85.8,163.8 87.8,162.2 89.9,160.9 92.2,160.2 94.7,159.8 95.9,159.9 8.3,123ZM74.8,225 74.8,226.7 74.8,228.3 74.6,229.7 74.3,231.1 74,232.3 73.5,233.3 72.9,234.2 72.3,234.9 71.5,235.5 70.7,235.8 69.8,236 68.9,236.1 67.9,235.9 66.8,235.6 65.7,235.2 64.6,234.5 63.4,233.7 62.3,232.8 61.1,231.7 59.9,230.4 58.8,229.1 57.6,227.6 56.5,226 55.4,224.3 54.4,222.5 53.4,220.7 52.4,218.8 51.6,216.9 50.8,214.9 50.1,212.9 49.4,210.9 48.9,209 48.4,207 48,205.1 47.8,203.3 47.6,201.5 47.5,199.8 47.5,198.2 47.7,196.8 47.9,195.4 48.3,194.2 48.7,193.1 49.2,192.1 49.9,191.4 50.6,190.7 51.4,190.3 52.2,190 53.2,189.9 54.2,190 55.2,190.3 56.3,190.7 57.5,191.3 58.6,192.1 59.8,193 61,194.1 62.3,195.4 63.5,196.8 64.6,198.3 65.8,199.9 66.9,201.7 68,203.5 69,205.4 70,207.3 70.9,209.3 71.7,211.4 72.4,213.4 73.1,215.5 73.6,217.5 74.1,219.5 74.4,221.4 74.7,223.2ZM63.8,179.2 63.9,180.7 63.8,182.1 63.7,183.4 63.4,184.6 63.1,185.7 62.7,186.7 62.3,187.5 61.7,188.2 61.1,188.7 60.4,189.1 59.6,189.3 58.8,189.4 57.9,189.4 57,189.1 56.1,188.8 55.1,188.2 54.1,187.6 53.1,186.8 52.1,185.9 51.1,184.8 50.1,183.6 49.1,182.4 48.1,181 47.2,179.5 46.3,178 45.4,176.4 44.6,174.7 43.8,173 43.1,171.3 42.5,169.6 41.9,167.8 41.4,166.1 41,164.4 40.7,162.7 40.5,161 40.3,159.5 40.2,158 40.3,156.5 40.4,155.2 40.6,154 40.9,152.9 41.2,151.9 41.7,151 42.2,150.3 42.8,149.7 43.5,149.2 44.2,149 45.1,148.8 45.9,148.9 46.8,149 47.8,149.4 48.8,149.9 49.8,150.5 50.8,151.3 51.8,152.2 52.9,153.3 53.9,154.5 54.9,155.8 55.9,157.2 56.9,158.7 57.8,160.3 58.7,161.9 59.6,163.6 60.3,165.4 61,167.1 61.7,168.9 62.2,170.7 62.7,172.5 63.1,174.2 63.4,176 63.7,177.6Z" fill="none" stroke="#1c0d02" stroke-width="2.7"/>
<path d="M259.2,31.5 360.8,58.5 378.4,317.6 286.3,276.3Z" fill="#CC960E" stroke="#1c0d02" stroke-width="0.8"/>
<path d="M161.9,57.3 259.2,31.5 286.3,276.3 201.3,313.7Z" fill="#B58708" stroke="#1c0d02" stroke-width="0.8"/>
<path d="M201.3,313.7 292.8,360.6 378.4,317.6 286.3,276.3Z" fill="#B08308" stroke="#1c0d02" stroke-width="0.8"/>
<path d="M205.9,64.6 284.9,88.6 297.1,208.5 221.4,178.7Z" fill="#ECE814" stroke="#1c0d02" stroke-width="0.8"/>
<path d="M175.3,73.1 205.9,64.6 221.4,178.7 192.6,189Z" fill="#D6D01E" stroke="#1c0d02" stroke-width="0.8"/>
<path d="M192.6,189 268.1,220 297.1,208.5 221.4,178.7Z" fill="#E2DE2E" stroke="#1c0d02" stroke-width="0.8"/>
<path d="M155.7,47.6 267.2,81.4 372.2,49.7 259.6,20.8Z" fill="#B08308" stroke="#1c0d02" stroke-width="2"/>
<path d="M267.2,81.4 372.2,49.7 389.4,323.8 298.8,370.1Z" fill="#B58708" stroke="#1c0d02" stroke-width="2"/>
<path d="M155.7,47.6 267.2,81.4 251.3,97.4 161.7,68.8Z" fill="#DAA212" stroke="#1c0d02" stroke-width="1"/>
<path d="M267.2,81.4 298.8,370.1 281.3,353.8 251.3,97.4Z" fill="#D49E10" stroke="#1c0d02" stroke-width="1"/>
<path d="M197.8,317.9 298.8,370.1 281.3,353.8 199.3,311.9Z" fill="#B4860A" stroke="#1c0d02" stroke-width="1"/>
<path d="M155.7,47.6 197.8,317.9 199.3,311.9 161.7,68.8Z" fill="#A87C06" stroke="#1c0d02" stroke-width="1"/>
<path d="M161.7,68.8 251.3,97.4 281.3,353.8 199.3,311.9ZM239.3,127.7 238.9,125.4 238.5,123.1 237.9,120.8 237.2,118.5 236.4,116.3 235.4,114 234.4,111.9 233.3,109.8 232.1,107.8 230.9,105.9 229.5,104.1 228.2,102.5 226.8,101 225.3,99.7 223.9,98.6 222.4,97.6 220.9,96.9 219.5,96.3 218.1,96 216.7,95.8 215.4,95.8 214.2,96.1 213,96.5 211.9,97.1 210.8,97.9 209.9,98.9 209.1,100.1 208.4,101.4 207.8,102.9 207.3,104.5 206.9,106.3 206.7,108.2 206.5,110.1 206.5,112.2 206.6,114.3 206.9,116.4 207.3,118.7 207.7,120.9 208.3,123.1 209,125.3 209.8,127.5 210.7,129.7 211.7,131.8 212.8,133.8 213.9,135.7 215.1,137.6 216.4,139.3 217.7,140.9 219.1,142.3 220.5,143.6 221.9,144.7 223.3,145.7 224.7,146.5 226.2,147.1 227.5,147.5 228.9,147.7 230.2,147.8 231.5,147.6 232.7,147.3 233.8,146.7 234.9,146 235.8,145 236.7,143.9 237.4,142.7 238.1,141.2 238.6,139.7 239.1,137.9 239.4,136.1 239.5,134.1 239.6,132 239.5,129.9ZM249.6,187.5 249.2,184.9 248.7,182.3 248,179.7 247.2,177.1 246.3,174.5 245.2,171.9 244,169.4 242.8,167 241.4,164.6 239.9,162.4 238.4,160.4 236.8,158.4 235.1,156.7 233.4,155.1 231.7,153.8 230,152.6 228.3,151.7 226.7,150.9 225,150.4 223.4,150.2 221.9,150.1 220.4,150.3 219,150.7 217.7,151.4 216.5,152.2 215.4,153.3 214.5,154.5 213.6,156 212.9,157.6 212.4,159.4 211.9,161.3 211.6,163.4 211.5,165.6 211.5,167.9 211.6,170.3 211.9,172.7 212.3,175.2 212.8,177.7 213.5,180.3 214.3,182.8 215.2,185.3 216.3,187.8 217.4,190.2 218.7,192.5 220,194.7 221.4,196.9 222.9,198.9 224.4,200.7 226,202.4 227.6,204 229.2,205.3 230.9,206.5 232.5,207.5 234.2,208.3 235.8,208.8 237.4,209.2 238.9,209.3 240.4,209.2 241.8,208.9 243.1,208.4 244.3,207.7 245.5,206.7 246.5,205.5 247.4,204.2 248.2,202.6 248.8,200.9 249.3,199 249.7,196.9 249.9,194.7 250,192.4 249.9,190ZM273.2,294.5 272.4,289.2 271.3,283.8 269.9,278.2 268.2,272.7 266.2,267.1 263.9,261.6 261.3,256.2 258.5,250.9 255.5,245.8 252.3,241 248.9,236.4 245.4,232.2 241.8,228.2 238.2,224.7 234.5,221.6 230.7,218.9 227.1,216.7 223.4,215 219.9,213.7 216.5,212.9 213.2,212.6 210.1,212.8 207.1,213.5 204.4,214.6 201.9,216.2 199.7,218.2 197.7,220.6 195.9,223.4 194.5,226.6 193.3,230.2 192.5,234 191.9,238.2 191.7,242.5 191.7,247.1 192,251.9 192.7,256.8 193.6,261.8 194.7,267 196.2,272.1 197.9,277.2 199.8,282.4 202,287.4 204.4,292.4 207,297.2 209.7,301.9 212.7,306.4 215.7,310.6 218.9,314.6 222.2,318.3 225.6,321.8 229,324.8 232.5,327.6 235.9,329.9 239.4,331.9 242.8,333.4 246.1,334.5 249.4,335.2 252.6,335.5 255.6,335.2 258.4,334.6 261.1,333.4 263.6,331.9 265.8,329.8 267.8,327.4 269.6,324.5 271,321.2 272.2,317.5 273,313.5 273.6,309.2 273.8,304.5 273.7,299.6Z" fill="#CC960E" fill-rule="evenodd" stroke="#1c0d02" stroke-width="1"/>
<path d="M164.4,68.8 249.7,96 265.4,229 183.7,194.7Z" fill="none" stroke="#1c0d02" stroke-width="1.9"/>
<path d="M226.8,101 225.3,99.7 223.9,98.6 222.4,97.6 220.9,96.9 219.5,96.3 218.1,96 216.7,95.8 215.4,95.8 214.2,96.1 213,96.5 211.9,97.1 210.8,97.9 209.9,98.9 209.1,100.1 208.4,101.4 207.8,102.9 207.3,104.5 206.9,106.3 206.7,108.2 206.5,110.1 206.5,112.2 206.6,114.3 206.9,116.4 207.3,118.7 207.7,120.9 208.3,123.1 209,125.3 209.8,127.5 210.7,129.7 211.7,131.8 212.8,133.8 213.9,135.7 215.1,137.6 216.4,139.3 217.7,140.9 219.1,142.3 220.5,143.6 221.9,144.7 223.3,145.7 224.7,146.5 226.2,147.1 227.5,147.5 228.9,147.7 230.2,147.8 231.5,147.6 232.7,147.3 233.8,146.7 234.9,146 235.8,145 236.7,143.9 237.4,142.7 238.1,141.2 238.6,139.7 239.1,137.9 239.4,136.1 239.4,136 239.1,136.7 238.6,137.9 237.9,138.9 237.2,139.9 236.4,140.6 235.6,141.2 234.6,141.7 233.6,142 232.6,142.1 231.5,142.1 230.4,141.9 229.2,141.6 228.1,141.1 226.9,140.5 225.7,139.7 224.5,138.7 223.4,137.7 222.2,136.5 221.1,135.1 220.1,133.7 219.1,132.2 218.1,130.6 217.2,128.9 216.4,127.2 215.7,125.4 215,123.6 214.5,121.8 214,119.9 213.6,118.1 213.3,116.2 213.1,114.5 213,112.7 213,111 213.1,109.4 213.3,107.8 213.6,106.4 214.1,105.1 214.6,103.8 215.2,102.7 215.8,101.8 216.6,101 217.5,100.3 218.4,99.8 219.4,99.4 220.4,99.2 221.5,99.2 222.6,99.4 223.8,99.7 225,100.1 226.2,100.8 227,101.3Z" fill="#A87C06" stroke="#1c0d02" stroke-width="0.7"/>
<path d="M226.8,101 226.1,100.4 225.6,100.1 224.3,99.2 223,98.5 221.7,98 220.4,97.7 219.1,97.5 217.9,97.5 216.8,97.7 215.7,98.1 214.7,98.7 213.7,99.5 212.9,100.4 212.1,101.4 211.5,102.6 210.9,104 210.5,105.5 210.1,107.1 209.9,108.8 209.8,110.6 209.8,112.4 209.9,114.4 210.1,116.3 210.4,118.4 210.8,120.4 211.4,122.4 212,124.5 212.8,126.5 213.6,128.5 214.5,130.4 215.5,132.2 216.5,134 217.6,135.6 218.8,137.2 220,138.7 221.2,140 222.5,141.2 223.8,142.2 225.1,143.1 226.4,143.8 227.7,144.3 229,144.7 230.2,144.9 231.4,145 232.6,144.8 233.7,144.5 234.7,144 235.6,143.3 236.5,142.4 237.3,141.4 238,140.3 238.6,139 239.1,137.5 239.2,137.2 239.4,136.1 239.4,136 239.1,136.7 238.6,137.9 237.9,138.9 237.2,139.9 236.4,140.6 235.6,141.2 234.6,141.7 233.6,142 232.6,142.1 231.5,142.1 230.4,141.9 229.2,141.6 228.1,141.1 226.9,140.5 225.7,139.7 224.5,138.7 223.4,137.7 222.2,136.5 221.1,135.1 220.1,133.7 219.1,132.2 218.1,130.6 217.2,128.9 216.4,127.2 215.7,125.4 215,123.6 214.5,121.8 214,119.9 213.6,118.1 213.3,116.2 213.1,114.5 213,112.7 213,111 213.1,109.4 213.3,107.8 213.6,106.4 214.1,105.1 214.6,103.8 215.2,102.7 215.8,101.8 216.6,101 217.5,100.3 218.4,99.8 219.4,99.4 220.4,99.2 221.5,99.2 222.6,99.4 223.8,99.7 225,100.1 226.2,100.8 227,101.3Z" fill="#CC960E" stroke="#1c0d02" stroke-width="0.7"/>
<path d="M223.8,99.7 222.6,99.4 221.5,99.2 220.4,99.2 219.4,99.4 218.4,99.8 217.5,100.3 216.6,101 215.8,101.8 215.2,102.7 214.6,103.8 214.1,105.1 213.6,106.4 213.3,107.8 213.1,109.4 213,111 213,112.7 213.1,114.5 213.3,116.2 213.6,118.1 214,119.9 214.5,121.8 215,123.6 215.7,125.4 216.4,127.2 217.2,128.9 218.1,130.6 219.1,132.2 220.1,133.7 221.1,135.1 222.2,136.5 223.4,137.7 224.5,138.7 225.7,139.7 226.9,140.5 228.1,141.1 229.2,141.6 230.4,141.9 231.5,142.1 232.6,142.1 233.6,142 234.6,141.7 235.6,141.2 236.4,140.6 237.2,139.9 237.9,138.9 238.3,138.3 237.4,138 236.2,137.3 235.1,136.5 233.9,135.6 232.7,134.6 231.6,133.4 230.5,132.1 229.5,130.7 228.5,129.2 227.5,127.6 226.6,125.9 225.8,124.2 225.1,122.4 224.4,120.6 223.9,118.8 223.4,116.9 223,115.1 222.7,113.3 222.5,111.5 222.5,109.8 222.5,108.1 222.6,106.5 222.8,104.9 223.1,103.5 223.6,102.1 224.1,100.9 224.6,100Z" fill="#C08E0C" stroke="#1c0d02" stroke-width="0.7"/>
<path d="M238.5,123.1 237.9,120.8 237.2,118.5 236.4,116.3 235.4,114 234.4,111.9 233.3,109.8 232.1,107.8 230.9,105.9 229.5,104.1 228.2,102.5 227,101.3 226.2,100.8 225,100.1 224.6,100 224.1,100.9 223.6,102.1 223.1,103.5 222.8,104.9 222.6,106.5 222.5,108.1 222.5,109.8 222.5,111.5 222.7,113.3 223,115.1 223.4,116.9 223.9,118.8 224.4,120.6 225.1,122.4 225.8,124.2 226.6,125.9 227.5,127.6 228.5,129.2 229.5,130.7 230.5,132.1 231.6,133.4 232.7,134.6 233.9,135.6 235.1,136.5 236.2,137.3 237.4,138 238.3,138.3 238.6,137.9 239.1,136.7 239.4,136 239.5,134.1 239.6,132 239.5,129.9 239.3,127.7 238.9,125.4Z" fill="none" stroke="#1c0d02" stroke-width="1.3"/>
<path d="M238.9,125.4 238.5,123.1 237.9,120.8 237.2,118.5 236.4,116.3 235.4,114 234.4,111.9 233.3,109.8 232.1,107.8 230.9,105.9 229.5,104.1 228.2,102.5 227,101.3 226.2,100.8 225,100.1 223.8,99.7 222.6,99.4 221.5,99.2 220.4,99.2 219.4,99.4 218.4,99.8 217.5,100.3 216.6,101 215.8,101.8 215.2,102.7 214.6,103.8 214.1,105.1 213.6,106.4 213.3,107.8 213.1,109.4 213,111 213,112.7 213.1,114.5 213.3,116.2 213.6,118.1 214,119.9 214.5,121.8 215,123.6 215.7,125.4 216.4,127.2 217.2,128.9 218.1,130.6 219.1,132.2 220.1,133.7 221.1,135.1 222.2,136.5 223.4,137.7 224.5,138.7 225.7,139.7 226.9,140.5 228.1,141.1 229.2,141.6 230.4,141.9 231.5,142.1 232.6,142.1 233.6,142 234.6,141.7 235.6,141.2 236.4,140.6 237.2,139.9 237.9,138.9 238.6,137.9 239.1,136.7 239.4,136 239.5,134.1 239.6,132 239.5,129.9 239.3,127.7Z" fill="none" stroke="#1c0d02" stroke-width="1"/>
<path d="M239.3,127.7 238.9,125.4 238.5,123.1 237.9,120.8 237.2,118.5 236.4,116.3 235.4,114 234.4,111.9 233.3,109.8 232.1,107.8 230.9,105.9 229.5,104.1 228.2,102.5 226.8,101 225.3,99.7 223.9,98.6 222.4,97.6 220.9,96.9 219.5,96.3 218.1,96 216.7,95.8 215.4,95.8 214.2,96.1 213,96.5 211.9,97.1 210.8,97.9 209.9,98.9 209.1,100.1 208.4,101.4 207.8,102.9 207.3,104.5 206.9,106.3 206.7,108.2 206.5,110.1 206.5,112.2 206.6,114.3 206.9,116.4 207.3,118.7 207.7,120.9 208.3,123.1 209,125.3 209.8,127.5 210.7,129.7 211.7,131.8 212.8,133.8 213.9,135.7 215.1,137.6 216.4,139.3 217.7,140.9 219.1,142.3 220.5,143.6 221.9,144.7 223.3,145.7 224.7,146.5 226.2,147.1 227.5,147.5 228.9,147.7 230.2,147.8 231.5,147.6 232.7,147.3 233.8,146.7 234.9,146 235.8,145 236.7,143.9 237.4,142.7 238.1,141.2 238.6,139.7 239.1,137.9 239.4,136.1 239.5,134.1 239.6,132 239.5,129.9Z" fill="none" stroke="#1c0d02" stroke-width="1.6"/>
<path d="M233.4,155.1 231.7,153.8 230,152.6 228.3,151.7 226.7,150.9 225,150.4 223.4,150.2 221.9,150.1 220.4,150.3 219,150.7 217.7,151.4 216.5,152.2 215.4,153.3 214.5,154.5 213.6,156 212.9,157.6 212.4,159.4 211.9,161.3 211.6,163.4 211.5,165.6 211.5,167.9 211.6,170.3 211.9,172.7 212.3,175.2 212.8,177.7 213.5,180.3 214.3,182.8 215.2,185.3 216.3,187.8 217.4,190.2 218.7,192.5 220,194.7 221.4,196.9 222.9,198.9 224.4,200.7 226,202.4 227.6,204 229.2,205.3 230.9,206.5 232.5,207.5 234.2,208.3 235.8,208.8 237.4,209.2 238.9,209.3 240.4,209.2 241.8,208.9 243.1,208.4 244.3,207.7 245.5,206.7 246.5,205.5 247.4,204.2 248.2,202.6 248.8,200.9 249.3,199 249.7,196.9 249.7,196.3 249.7,196.5 249.1,198 248.5,199.3 247.7,200.5 246.8,201.5 245.9,202.3 244.8,203 243.7,203.4 242.5,203.7 241.2,203.8 239.9,203.7 238.5,203.4 237.2,202.9 235.7,202.2 234.3,201.4 232.9,200.4 231.5,199.2 230.1,197.9 228.8,196.5 227.5,194.9 226.2,193.2 225,191.3 223.9,189.4 222.8,187.4 221.8,185.4 220.9,183.3 220.2,181.1 219.5,179 218.9,176.8 218.4,174.6 218.1,172.5 217.9,170.4 217.7,168.4 217.8,166.4 217.9,164.5 218.2,162.8 218.5,161.1 219,159.6 219.7,158.2 220.4,157 221.2,155.9 222.2,155 223.2,154.3 224.3,153.8 225.5,153.4 226.7,153.3 228.1,153.3 229.4,153.5 230.8,154 232.3,154.6 233.7,155.4 233.7,155.4Z" fill="#A87C06" stroke="#1c0d02" stroke-width="0.7"/>
<path d="M233.4,155.1 232.9,154.7 231.9,154 230.3,153.1 228.7,152.5 227.2,152 225.7,151.7 224.3,151.7 222.9,151.9 221.7,152.2 220.5,152.8 219.3,153.6 218.3,154.6 217.4,155.8 216.7,157.1 216,158.6 215.5,160.3 215,162.1 214.8,164 214.6,166 214.6,168.1 214.7,170.3 215,172.6 215.4,174.9 215.9,177.3 216.5,179.6 217.2,182 218.1,184.3 219,186.6 220.1,188.8 221.3,191 222.5,193 223.8,195 225.2,196.9 226.6,198.6 228,200.2 229.5,201.6 231.1,202.9 232.6,204 234.1,204.9 235.7,205.6 237.2,206.1 238.6,206.4 240.1,206.6 241.4,206.5 242.7,206.2 244,205.7 245.1,205 246.1,204.1 247.1,203 247.9,201.7 248.7,200.3 249.2,198.7 249.6,197.3 249.7,196.9 249.7,196.3 249.7,196.5 249.1,198 248.5,199.3 247.7,200.5 246.8,201.5 245.9,202.3 244.8,203 243.7,203.4 242.5,203.7 241.2,203.8 239.9,203.7 238.5,203.4 237.2,202.9 235.7,202.2 234.3,201.4 232.9,200.4 231.5,199.2 230.1,197.9 228.8,196.5 227.5,194.9 226.2,193.2 225,191.3 223.9,189.4 222.8,187.4 221.8,185.4 220.9,183.3 220.2,181.1 219.5,179 218.9,176.8 218.4,174.6 218.1,172.5 217.9,170.4 217.7,168.4 217.8,166.4 217.9,164.5 218.2,162.8 218.5,161.1 219,159.6 219.7,158.2 220.4,157 221.2,155.9 222.2,155 223.2,154.3 224.3,153.8 225.5,153.4 226.7,153.3 228.1,153.3 229.4,153.5 230.8,154 232.3,154.6 233.7,155.4 233.7,155.4Z" fill="#CC960E" stroke="#1c0d02" stroke-width="0.7"/>
<path d="M229.4,153.5 228.1,153.3 226.7,153.3 225.5,153.4 224.3,153.8 223.2,154.3 222.2,155 221.2,155.9 220.4,157 219.7,158.2 219,159.6 218.5,161.1 218.2,162.8 217.9,164.5 217.8,166.4 217.7,168.4 217.9,170.4 218.1,172.5 218.4,174.6 218.9,176.8 219.5,179 220.2,181.1 220.9,183.3 221.8,185.4 222.8,187.4 223.9,189.4 225,191.3 226.2,193.2 227.5,194.9 228.8,196.5 230.1,197.9 231.5,199.2 232.9,200.4 234.3,201.4 235.7,202.2 237.2,202.9 238.5,203.4 239.9,203.7 241.2,203.8 242.5,203.7 243.7,203.4 244.8,203 245.9,202.3 246.8,201.5 247.7,200.5 248,200 247.6,200 246.2,199.5 244.8,198.8 243.4,198 242,197 240.6,195.9 239.2,194.6 237.8,193.1 236.5,191.5 235.3,189.8 234.1,188 233,186.1 231.9,184.1 230.9,182.1 230.1,180 229.3,177.9 228.6,175.7 228,173.5 227.6,171.4 227.2,169.3 227,167.2 226.9,165.2 227,163.2 227.1,161.4 227.4,159.6 227.8,157.9 228.3,156.4 228.9,155 229.6,153.8 229.8,153.6Z" fill="#C08E0C" stroke="#1c0d02" stroke-width="0.7"/>
<path d="M248.7,182.3 248,179.7 247.2,177.1 246.3,174.5 245.2,171.9 244,169.4 242.8,167 241.4,164.6 239.9,162.4 238.4,160.4 236.8,158.4 235.1,156.7 233.7,155.4 233.7,155.4 232.3,154.6 230.8,154 229.8,153.6 229.6,153.8 228.9,155 228.3,156.4 227.8,157.9 227.4,159.6 227.1,161.4 227,163.2 226.9,165.2 227,167.2 227.2,169.3 227.6,171.4 228,173.5 228.6,175.7 229.3,177.9 230.1,180 230.9,182.1 231.9,184.1 233,186.1 234.1,188 235.3,189.8 236.5,191.5 237.8,193.1 239.2,194.6 240.6,195.9 242,197 243.4,198 244.8,198.8 246.2,199.5 247.6,200 248,200 248.5,199.3 249.1,198 249.7,196.5 249.7,196.3 249.9,194.7 250,192.4 249.9,190 249.6,187.5 249.2,184.9Z" fill="none" stroke="#1c0d02" stroke-width="1.3"/>
<path d="M249.2,184.9 248.7,182.3 248,179.7 247.2,177.1 246.3,174.5 245.2,171.9 244,169.4 242.8,167 241.4,164.6 239.9,162.4 238.4,160.4 236.8,158.4 235.1,156.7 233.7,155.4 233.7,155.4 232.3,154.6 230.8,154 229.4,153.5 228.1,153.3 226.7,153.3 225.5,153.4 224.3,153.8 223.2,154.3 222.2,155 221.2,155.9 220.4,157 219.7,158.2 219,159.6 218.5,161.1 218.2,162.8 217.9,164.5 217.8,166.4 217.7,168.4 217.9,170.4 218.1,172.5 218.4,174.6 218.9,176.8 219.5,179 220.2,181.1 220.9,183.3 221.8,185.4 222.8,187.4 223.9,189.4 225,191.3 226.2,193.2 227.5,194.9 228.8,196.5 230.1,197.9 231.5,199.2 232.9,200.4 234.3,201.4 235.7,202.2 237.2,202.9 238.5,203.4 239.9,203.7 241.2,203.8 242.5,203.7 243.7,203.4 244.8,203 245.9,202.3 246.8,201.5 247.7,200.5 248.5,199.3 249.1,198 249.7,196.5 249.7,196.3 249.9,194.7 250,192.4 249.9,190 249.6,187.5Z" fill="none" stroke="#1c0d02" stroke-width="1"/>
<path d="M249.6,187.5 249.2,184.9 248.7,182.3 248,179.7 247.2,177.1 246.3,174.5 245.2,171.9 244,169.4 242.8,167 241.4,164.6 239.9,162.4 238.4,160.4 236.8,158.4 235.1,156.7 233.4,155.1 231.7,153.8 230,152.6 228.3,151.7 226.7,150.9 225,150.4 223.4,150.2 221.9,150.1 220.4,150.3 219,150.7 217.7,151.4 216.5,152.2 215.4,153.3 214.5,154.5 213.6,156 212.9,157.6 212.4,159.4 211.9,161.3 211.6,163.4 211.5,165.6 211.5,167.9 211.6,170.3 211.9,172.7 212.3,175.2 212.8,177.7 213.5,180.3 214.3,182.8 215.2,185.3 216.3,187.8 217.4,190.2 218.7,192.5 220,194.7 221.4,196.9 222.9,198.9 224.4,200.7 226,202.4 227.6,204 229.2,205.3 230.9,206.5 232.5,207.5 234.2,208.3 235.8,208.8 237.4,209.2 238.9,209.3 240.4,209.2 241.8,208.9 243.1,208.4 244.3,207.7 245.5,206.7 246.5,205.5 247.4,204.2 248.2,202.6 248.8,200.9 249.3,199 249.7,196.9 249.9,194.7 250,192.4 249.9,190Z" fill="none" stroke="#1c0d02" stroke-width="1.6"/>
<path d="M241.8,228.2 238.2,224.7 234.5,221.6 230.7,218.9 227.1,216.7 223.4,215 219.9,213.7 216.5,212.9 213.2,212.6 210.1,212.8 207.1,213.5 204.4,214.6 201.9,216.2 199.7,218.2 197.7,220.6 195.9,223.4 194.5,226.6 193.3,230.2 192.5,234 191.9,238.2 191.7,242.5 191.7,247.1 192,251.9 192.7,256.8 193.6,261.8 194.7,267 196.2,272.1 197.9,277.2 199.8,282.4 202,287.4 204.4,292.4 207,297.2 209.7,301.9 212.7,306.4 215.7,310.6 218.9,314.6 222.2,318.3 225.6,321.8 229,324.8 232.5,327.6 235.9,329.9 239.4,331.9 242.8,333.4 246.1,334.5 249.4,335.2 252.6,335.5 255.6,335.2 258.4,334.6 261.1,333.4 263.6,331.9 265.8,329.8 267.8,327.4 269.6,324.5 271,321.2 272.2,317.5 273,313.5 273.6,309.2 273.8,304.5 273.7,299.6 273.6,299.3 273.7,300.6 273.5,304.8 273,308.8 272.2,312.5 271.1,315.9 269.8,318.9 268.2,321.6 266.4,323.9 264.3,325.8 262,327.2 259.6,328.3 257,328.9 254.2,329.1 251.3,328.9 248.3,328.3 245.2,327.3 242,325.9 238.9,324.1 235.7,322 232.5,319.5 229.3,316.7 226.2,313.5 223.2,310.1 220.2,306.4 217.4,302.5 214.7,298.4 212.2,294.1 209.8,289.6 207.6,285.1 205.6,280.4 203.8,275.7 202.3,271 200.9,266.2 199.9,261.5 199,256.9 198.5,252.4 198.2,248 198.2,243.8 198.4,239.7 199,236 199.8,232.4 200.9,229.2 202.2,226.3 203.8,223.7 205.7,221.4 207.7,219.6 210.1,218.2 212.6,217.1 215.3,216.6 218.2,216.4 221.2,216.7 224.3,217.4 227.6,218.6 230.9,220.2 234.3,222.2 237.7,224.7 241.1,227.6 241.9,228.3Z" fill="#A87C06" stroke="#1c0d02" stroke-width="0.7"/>
<path d="M241.9,228.3 239.6,226.1 236.1,223.2 232.5,220.6 229,218.5 225.5,216.8 222.1,215.6 218.8,214.8 215.7,214.5 212.7,214.7 209.9,215.3 207.2,216.4 204.8,217.9 202.7,219.8 200.7,222.1 199.1,224.9 197.7,227.9 196.6,231.3 195.7,235 195.2,239 194.9,243.1 195,247.6 195.3,252.1 195.9,256.9 196.7,261.7 197.8,266.6 199.2,271.5 200.9,276.5 202.7,281.4 204.8,286.3 207.1,291 209.6,295.7 212.2,300.1 215,304.4 218,308.5 221,312.4 224.2,315.9 227.4,319.2 230.7,322.2 234.1,324.8 237.4,327 240.7,328.9 244,330.4 247.2,331.4 250.3,332.1 253.4,332.3 256.3,332.1 259,331.4 261.6,330.3 263.9,328.8 266.1,326.8 268,324.5 269.7,321.7 271.1,318.5 272.2,315 273,311.2 273.5,307 273.7,302.5 273.7,299.5 273.6,299.3 273.7,300.6 273.5,304.8 273,308.8 272.2,312.5 271.1,315.9 269.8,318.9 268.2,321.6 266.4,323.9 264.3,325.8 262,327.2 259.6,328.3 257,328.9 254.2,329.1 251.3,328.9 248.3,328.3 245.2,327.3 242,325.9 238.9,324.1 235.7,322 232.5,319.5 229.3,316.7 226.2,313.5 223.2,310.1 220.2,306.4 217.4,302.5 214.7,298.4 212.2,294.1 209.8,289.6 207.6,285.1 205.6,280.4 203.8,275.7 202.3,271 200.9,266.2 199.9,261.5 199,256.9 198.5,252.4 198.2,248 198.2,243.8 198.4,239.7 199,236 199.8,232.4 200.9,229.2 202.2,226.3 203.8,223.7 205.7,221.4 207.7,219.6 210.1,218.2 212.6,217.1 215.3,216.6 218.2,216.4 221.2,216.7 224.3,217.4 227.6,218.6 230.9,220.2 234.3,222.2 237.7,224.7 241.1,227.6 241.9,228.3Z" fill="#CC960E" stroke="#1c0d02" stroke-width="0.7"/>
<path d="M215.3,216.6 212.6,217.1 210.1,218.2 207.7,219.6 205.7,221.4 203.8,223.7 202.2,226.3 200.9,229.2 199.8,232.4 199,236 198.4,239.7 198.2,243.8 198.2,248 198.5,252.4 199,256.9 199.9,261.5 200.9,266.2 202.3,271 203.8,275.7 205.6,280.4 207.6,285.1 209.8,289.6 212.2,294.1 214.7,298.4 217.4,302.5 220.2,306.4 223.2,310.1 226.2,313.5 229.3,316.7 232.5,319.5 235.7,322 238.9,324.1 242,325.9 245.2,327.3 248.3,328.3 251.3,328.9 254.2,329.1 257,328.9 259.6,328.3 262,327.2 264.3,325.8 265.2,325 262.6,325.2 259.7,325 256.7,324.4 253.6,323.4 250.5,322 247.3,320.3 244.1,318.1 240.9,315.7 237.7,312.9 234.6,309.7 231.6,306.4 228.7,302.7 225.9,298.8 223.2,294.7 220.7,290.4 218.3,286 216.1,281.5 214.1,276.8 212.4,272.1 210.8,267.4 209.5,262.7 208.5,258 207.7,253.4 207.1,248.9 206.9,244.5 206.9,240.3 207.2,236.3 207.7,232.6 208.5,229 209.6,225.8 211,222.9 212.6,220.3 214.5,218.1 216.3,216.5Z" fill="#C08E0C" stroke="#1c0d02" stroke-width="0.7"/>
<path d="M212.6,217.1 210.1,218.2 207.7,219.6 205.7,221.4 203.8,223.7 202.2,226.3 200.9,229.2 199.8,232.4 199,236 198.4,239.7 198.2,243.8 198.2,248 198.5,252.4 199,256.9 199.9,261.5 200.9,266.2 202.3,271 203.8,275.7 205.6,280.4 207.6,285.1 209.8,289.6 212.2,294.1 214.7,298.4 217.4,302.5 220.2,306.4 223.2,310.1 226.2,313.5 229.3,316.7 232.5,319.5 235.7,322 238.9,324.1 242,325.9 245.2,327.3 248.3,328.3 251.3,328.9 254.2,329.1 257,328.9 259.6,328.3 262,327.2 262.3,327 261.2,327.5 258.6,328.2 255.8,328.4 252.9,328.2 249.9,327.6 246.8,326.6 243.7,325.2 240.5,323.4 237.3,321.2 234.1,318.7 230.9,315.9 227.8,312.8 224.8,309.4 221.9,305.7 219,301.8 216.4,297.7 213.8,293.4 211.4,288.9 209.2,284.4 207.3,279.7 205.5,275 203.9,270.3 202.6,265.5 201.5,260.8 200.7,256.2 200.2,251.7 199.9,247.3 199.9,243.1 200.1,239.1 200.7,235.3 201.5,231.8 202.6,228.5 203.9,225.6 205.5,223 207.4,220.8 209.5,219 211.8,217.5 212.8,217.1Z" fill="#ECE9A4" stroke="#1c0d02" stroke-width="0.6"/>
<path d="M271.3,283.8 269.9,278.2 268.2,272.7 266.2,267.1 263.9,261.6 261.3,256.2 258.5,250.9 255.5,245.8 252.3,241 248.9,236.4 245.4,232.2 241.9,228.3 241.1,227.6 237.7,224.7 234.3,222.2 230.9,220.2 227.6,218.6 224.3,217.4 221.2,216.7 218.2,216.4 216.3,216.5 214.5,218.1 212.6,220.3 211,222.9 209.6,225.8 208.5,229 207.7,232.6 207.2,236.3 206.9,240.3 206.9,244.5 207.1,248.9 207.7,253.4 208.5,258 209.5,262.7 210.8,267.4 212.4,272.1 214.1,276.8 216.1,281.5 218.3,286 220.7,290.4 223.2,294.7 225.9,298.8 228.7,302.7 231.6,306.4 234.6,309.7 237.7,312.9 240.9,315.7 244.1,318.1 247.3,320.3 250.5,322 253.6,323.4 256.7,324.4 259.7,325 262.6,325.2 265.2,325 266.4,323.9 268.2,321.6 269.8,318.9 271.1,315.9 272.2,312.5 273,308.8 273.5,304.8 273.7,300.6 273.6,299.3 273.2,294.5 272.4,289.2Z" fill="none" stroke="#1c0d02" stroke-width="1.3"/>
<path d="M272.4,289.2 271.3,283.8 269.9,278.2 268.2,272.7 266.2,267.1 263.9,261.6 261.3,256.2 258.5,250.9 255.5,245.8 252.3,241 248.9,236.4 245.4,232.2 241.9,228.3 241.1,227.6 237.7,224.7 234.3,222.2 230.9,220.2 227.6,218.6 224.3,217.4 221.2,216.7 218.2,216.4 215.3,216.6 212.6,217.1 210.1,218.2 207.7,219.6 205.7,221.4 203.8,223.7 202.2,226.3 200.9,229.2 199.8,232.4 199,236 198.4,239.7 198.2,243.8 198.2,248 198.5,252.4 199,256.9 199.9,261.5 200.9,266.2 202.3,271 203.8,275.7 205.6,280.4 207.6,285.1 209.8,289.6 212.2,294.1 214.7,298.4 217.4,302.5 220.2,306.4 223.2,310.1 226.2,313.5 229.3,316.7 232.5,319.5 235.7,322 238.9,324.1 242,325.9 245.2,327.3 248.3,328.3 251.3,328.9 254.2,329.1 257,328.9 259.6,328.3 262,327.2 264.3,325.8 266.4,323.9 268.2,321.6 269.8,318.9 271.1,315.9 272.2,312.5 273,308.8 273.5,304.8 273.7,300.6 273.6,299.3 273.2,294.5Z" fill="none" stroke="#1c0d02" stroke-width="1"/>
<path d="M273.2,294.5 272.4,289.2 271.3,283.8 269.9,278.2 268.2,272.7 266.2,267.1 263.9,261.6 261.3,256.2 258.5,250.9 255.5,245.8 252.3,241 248.9,236.4 245.4,232.2 241.8,228.2 238.2,224.7 234.5,221.6 230.7,218.9 227.1,216.7 223.4,215 219.9,213.7 216.5,212.9 213.2,212.6 210.1,212.8 207.1,213.5 204.4,214.6 201.9,216.2 199.7,218.2 197.7,220.6 195.9,223.4 194.5,226.6 193.3,230.2 192.5,234 191.9,238.2 191.7,242.5 191.7,247.1 192,251.9 192.7,256.8 193.6,261.8 194.7,267 196.2,272.1 197.9,277.2 199.8,282.4 202,287.4 204.4,292.4 207,297.2 209.7,301.9 212.7,306.4 215.7,310.6 218.9,314.6 222.2,318.3 225.6,321.8 229,324.8 232.5,327.6 235.9,329.9 239.4,331.9 242.8,333.4 246.1,334.5 249.4,335.2 252.6,335.5 255.6,335.2 258.4,334.6 261.1,333.4 263.6,331.9 265.8,329.8 267.8,327.4 269.6,324.5 271,321.2 272.2,317.5 273,313.5 273.6,309.2 273.8,304.5 273.7,299.6Z" fill="none" stroke="#1c0d02" stroke-width="1.6"/>
<path d="M155.7,47.6 L267.2,81.4" stroke="#1c0d02" stroke-width="2.5" fill="none"/>
<path d="M267.2,81.4 L298.8,370.1" stroke="#1c0d02" stroke-width="2.5" fill="none"/>
<path d="M259.6,20.8 155.7,47.6 197.8,317.9 298.8,370.1 389.4,323.8 372.2,49.7ZM239.5,134.1 239.4,136.1 239.1,137.9 238.6,139.7 238.1,141.2 237.4,142.7 236.7,143.9 235.8,145 234.9,146 233.8,146.7 232.7,147.3 231.5,147.6 230.2,147.8 228.9,147.7 227.5,147.5 226.2,147.1 224.7,146.5 223.3,145.7 221.9,144.7 220.5,143.6 219.1,142.3 217.7,140.9 216.4,139.3 215.1,137.6 213.9,135.7 212.8,133.8 211.7,131.8 210.7,129.7 209.8,127.5 209,125.3 208.3,123.1 207.7,120.9 207.3,118.7 206.9,116.4 206.6,114.3 206.5,112.2 206.5,110.1 206.7,108.2 206.9,106.3 207.3,104.5 207.8,102.9 208.4,101.4 209.1,100.1 209.9,98.9 210.8,97.9 211.9,97.1 213,96.5 214.2,96.1 215.4,95.8 216.7,95.8 218.1,96 219.5,96.3 220.9,96.9 222.4,97.6 223.9,98.6 225.3,99.7 226.8,101 228.2,102.5 229.5,104.1 230.9,105.9 232.1,107.8 233.3,109.8 234.4,111.9 235.4,114 236.4,116.3 237.2,118.5 237.9,120.8 238.5,123.1 238.9,125.4 239.3,127.7 239.5,129.9 239.6,132ZM249.9,194.7 249.7,196.9 249.3,199 248.8,200.9 248.2,202.6 247.4,204.2 246.5,205.5 245.5,206.7 244.3,207.7 243.1,208.4 241.8,208.9 240.4,209.2 238.9,209.3 237.4,209.2 235.8,208.8 234.2,208.3 232.5,207.5 230.9,206.5 229.2,205.3 227.6,204 226,202.4 224.4,200.7 222.9,198.9 221.4,196.9 220,194.7 218.7,192.5 217.4,190.2 216.3,187.8 215.2,185.3 214.3,182.8 213.5,180.3 212.8,177.7 212.3,175.2 211.9,172.7 211.6,170.3 211.5,167.9 211.5,165.6 211.6,163.4 211.9,161.3 212.4,159.4 212.9,157.6 213.6,156 214.5,154.5 215.4,153.3 216.5,152.2 217.7,151.4 219,150.7 220.4,150.3 221.9,150.1 223.4,150.2 225,150.4 226.7,150.9 228.3,151.7 230,152.6 231.7,153.8 233.4,155.1 235.1,156.7 236.8,158.4 238.4,160.4 239.9,162.4 241.4,164.6 242.8,167 244,169.4 245.2,171.9 246.3,174.5 247.2,177.1 248,179.7 248.7,182.3 249.2,184.9 249.6,187.5 249.9,190 250,192.4ZM273.6,309.2 273,313.5 272.2,317.5 271,321.2 269.6,324.5 267.8,327.4 265.8,329.8 263.6,331.9 261.1,333.4 258.4,334.6 255.6,335.2 252.6,335.5 249.4,335.2 246.1,334.5 242.8,333.4 239.4,331.9 235.9,329.9 232.5,327.6 229,324.8 225.6,321.8 222.2,318.3 218.9,314.6 215.7,310.6 212.7,306.4 209.7,301.9 207,297.2 204.4,292.4 202,287.4 199.8,282.4 197.9,277.2 196.2,272.1 194.7,267 193.6,261.8 192.7,256.8 192,251.9 191.7,247.1 191.7,242.5 191.9,238.2 192.5,234 193.3,230.2 194.5,226.6 195.9,223.4 197.7,220.6 199.7,218.2 201.9,216.2 204.4,214.6 207.1,213.5 210.1,212.8 213.2,212.6 216.5,212.9 219.9,213.7 223.4,215 227.1,216.7 230.7,218.9 234.5,221.6 238.2,224.7 241.8,228.2 245.4,232.2 248.9,236.4 252.3,241 255.5,245.8 258.5,250.9 261.3,256.2 263.9,261.6 266.2,267.1 268.2,272.7 269.9,278.2 271.3,283.8 272.4,289.2 273.2,294.5 273.7,299.6 273.8,304.5Z" fill="none" stroke="#1c0d02" stroke-width="2.7"/>
<path d="M404.1,69.1 531.1,102.7 529.5,384 417.2,333.7Z" fill="#CC960E" stroke="#1c0d02" stroke-width="0.8"/>
<path d="M305.9,100.8 404.1,69.1 417.2,333.7 331.8,378.9Z" fill="#B58708" stroke="#1c0d02" stroke-width="0.8"/>
<path d="M331.8,378.9 444.8,436.5 529.5,384 417.2,333.7Z" fill="#B08308" stroke="#1c0d02" stroke-width="0.8"/>
<path d="M352.5,108.1 452.1,138.4 456,269.6 361.6,232.5Z" fill="#ECE814" stroke="#1c0d02" stroke-width="0.8"/>
<path d="M321.5,118.6 352.5,108.1 361.6,232.5 332.5,245.1Z" fill="#D6D01E" stroke="#1c0d02" stroke-width="0.8"/>
<path d="M332.5,245.1 427,283.9 456,269.6 361.6,232.5Z" fill="#E2DE2E" stroke="#1c0d02" stroke-width="0.8"/>
<path d="M298.9,89.9 440.7,132.7 544.5,93.1 403.8,57Z" fill="#B08308" stroke="#1c0d02" stroke-width="2"/>
<path d="M440.7,132.7 544.5,93.1 541.1,390.6 451.6,447.2Z" fill="#B58708" stroke="#1c0d02" stroke-width="2"/>
<path d="M298.9,89.9 440.7,132.7 420.3,150.2 306.5,113.9Z" fill="#DAA212" stroke="#1c0d02" stroke-width="1"/>
<path d="M440.7,132.7 451.6,447.2 432.6,429.3 420.3,150.2Z" fill="#D49E10" stroke="#1c0d02" stroke-width="1"/>
<path d="M327,383.1 451.6,447.2 432.6,429.3 331.1,377.6Z" fill="#B4860A" stroke="#1c0d02" stroke-width="1"/>
<path d="M298.9,89.9 327,383.1 331.1,377.6 306.5,113.9Z" fill="#A87C06" stroke="#1c0d02" stroke-width="1"/>
<path d="M306.5,113.9 420.3,150.2 432.6,429.3 331.1,377.6ZM367.2,170.7 366.9,168.3 366.5,165.8 366,163.3 365.3,160.8 364.5,158.4 363.5,155.9 362.4,153.5 361.2,151.2 359.9,149 358.5,147 357,145 355.4,143.2 353.8,141.6 352.1,140.1 350.4,138.8 348.7,137.7 346.9,136.9 345.2,136.2 343.5,135.7 341.8,135.5 340.2,135.5 338.6,135.7 337.1,136.1 335.7,136.7 334.4,137.5 333.1,138.6 332,139.8 331,141.2 330.2,142.7 329.4,144.5 328.8,146.3 328.4,148.3 328.1,150.4 327.9,152.6 327.9,154.9 328,157.2 328.3,159.6 328.7,162 329.3,164.4 330,166.8 330.8,169.2 331.7,171.6 332.8,173.8 334,176 335.2,178.2 336.6,180.2 338,182.1 339.5,183.8 341.1,185.4 342.7,186.9 344.4,188.2 346,189.3 347.7,190.2 349.4,190.9 351.1,191.4 352.8,191.7 354.4,191.8 355.9,191.7 357.5,191.4 358.9,190.9 360.3,190.1 361.5,189.2 362.7,188 363.7,186.7 364.7,185.2 365.4,183.5 366.1,181.7 366.6,179.7 367,177.6 367.2,175.4 367.3,173.1ZM375.2,235.2 375,232.5 374.5,229.7 373.9,226.8 373.1,224 372.1,221.2 371,218.4 369.8,215.6 368.4,213 366.8,210.4 365.2,208 363.5,205.7 361.6,203.6 359.7,201.6 357.8,199.9 355.8,198.3 353.8,197 351.8,195.9 349.7,195 347.7,194.4 345.8,194.1 343.9,193.9 342.1,194.1 340.3,194.4 338.7,195 337.1,195.9 335.7,197 334.4,198.3 333.3,199.8 332.3,201.5 331.4,203.3 330.8,205.4 330.2,207.6 329.9,209.9 329.7,212.3 329.7,214.9 329.8,217.5 330.1,220.2 330.6,222.9 331.2,225.6 332,228.4 333,231.1 334.1,233.7 335.3,236.4 336.6,238.9 338.1,241.4 339.6,243.7 341.3,245.9 343,248 344.8,249.9 346.7,251.6 348.6,253.1 350.6,254.5 352.5,255.6 354.5,256.5 356.4,257.2 358.4,257.7 360.2,257.9 362.1,257.9 363.8,257.6 365.5,257.1 367.1,256.4 368.5,255.5 369.9,254.3 371.1,252.9 372.2,251.2 373.1,249.4 373.9,247.4 374.5,245.3 375,242.9 375.2,240.5 375.3,237.9ZM428.3,365.4 427.8,359.6 426.9,353.7 425.7,347.7 424,341.5 421.9,335.4 419.5,329.3 416.7,323.3 413.6,317.4 410.2,311.7 406.6,306.2 402.7,301.1 398.6,296.2 394.3,291.8 389.9,287.7 385.4,284.1 380.9,280.9 376.3,278.3 371.8,276.1 367.4,274.5 363,273.4 358.8,272.8 354.7,272.8 350.9,273.3 347.3,274.3 343.9,275.8 340.8,277.8 338,280.3 335.5,283.2 333.3,286.5 331.5,290.2 330,294.3 328.9,298.6 328.2,303.3 327.8,308.2 327.7,313.3 328,318.6 328.7,324 329.7,329.5 331.1,335.1 332.8,340.8 334.8,346.4 337,351.9 339.6,357.4 342.4,362.7 345.5,367.9 348.8,372.9 352.3,377.7 356,382.2 359.9,386.4 363.9,390.3 368,393.9 372.1,397.1 376.4,399.9 380.6,402.2 384.8,404.2 389.1,405.7 393.2,406.7 397.2,407.2 401.2,407.3 404.9,406.8 408.5,405.8 411.9,404.4 415,402.4 417.8,400 420.4,397.1 422.6,393.7 424.5,389.9 426,385.7 427.2,381.1 428,376.1 428.3,370.9Z" fill="#CC960E" fill-rule="evenodd" stroke="#1c0d02" stroke-width="1"/>
<path d="M309.9,114.1 418.4,148.6 424.9,294.3 322.6,251.5Z" fill="none" stroke="#1c0d02" stroke-width="1.9"/>
<path d="M355.4,143.2 353.8,141.6 352.1,140.1 350.4,138.8 348.7,137.7 346.9,136.9 345.2,136.2 343.5,135.7 341.8,135.5 340.2,135.5 338.6,135.7 337.1,136.1 335.7,136.7 334.4,137.5 333.1,138.6 332,139.8 331,141.2 330.2,142.7 329.4,144.5 328.8,146.3 328.4,148.3 328.1,150.4 327.9,152.6 327.9,154.9 328,157.2 328.3,159.6 328.7,162 329.3,164.4 330,166.8 330.8,169.2 331.7,171.6 332.8,173.8 334,176 335.2,178.2 336.6,180.2 338,182.1 339.5,183.8 341.1,185.4 342.7,186.9 344.4,188.2 346,189.3 347.7,190.2 349.4,190.9 351.1,191.4 352.8,191.7 354.4,191.8 355.9,191.7 357.5,191.4 358.9,190.9 360.3,190.1 361.5,189.2 362.7,188 363.7,186.7 364.7,185.2 365.4,183.5 366.1,181.7 366.6,179.7 367,177.6 367.2,175.4 367.3,173.8 367,175.5 366.5,177.2 366,178.7 365.3,180.1 364.6,181.3 363.7,182.4 362.7,183.4 361.7,184.1 360.6,184.8 359.4,185.2 358.1,185.5 356.8,185.6 355.5,185.5 354.1,185.3 352.7,184.8 351.3,184.3 349.9,183.5 348.5,182.6 347.1,181.5 345.8,180.3 344.5,179 343.3,177.6 342.1,176 340.9,174.3 339.9,172.6 338.9,170.7 338.1,168.9 337.3,166.9 336.6,164.9 336,162.9 335.6,160.9 335.2,158.9 335,157 334.9,155 334.9,153.2 335.1,151.3 335.3,149.6 335.7,148 336.2,146.4 336.8,145 337.6,143.7 338.4,142.6 339.3,141.6 340.3,140.7 341.4,140.1 342.6,139.6 343.8,139.2 345.1,139.1 346.5,139.1 347.9,139.3 349.3,139.7 350.7,140.2 352.2,140.9 353.6,141.8 355,142.9 355.6,143.4Z" fill="#A87C06" stroke="#1c0d02" stroke-width="0.7"/>
<path d="M355.4,143.2 354.8,142.5 353.6,141.5 352,140.3 350.4,139.3 348.8,138.5 347.3,137.9 345.7,137.5 344.2,137.3 342.7,137.3 341.2,137.4 339.9,137.8 338.6,138.4 337.3,139.1 336.2,140.1 335.2,141.2 334.3,142.5 333.5,143.9 332.8,145.5 332.3,147.1 331.9,149 331.6,150.9 331.4,152.9 331.4,155 331.5,157.1 331.8,159.3 332.2,161.5 332.7,163.7 333.3,165.9 334,168.1 334.9,170.2 335.9,172.3 336.9,174.3 338.1,176.2 339.3,178.1 340.6,179.8 342,181.4 343.4,182.9 344.9,184.2 346.4,185.4 348,186.4 349.5,187.2 351.1,187.9 352.6,188.3 354.1,188.6 355.6,188.7 357,188.6 358.4,188.3 359.7,187.8 361,187.1 362.1,186.3 363.2,185.2 364.1,184 365,182.6 365.7,181.1 366.3,179.4 366.8,177.6 367.1,175.7 367.2,174.6 367.3,173.8 367,175.5 366.5,177.2 366,178.7 365.3,180.1 364.6,181.3 363.7,182.4 362.7,183.4 361.7,184.1 360.6,184.8 359.4,185.2 358.1,185.5 356.8,185.6 355.5,185.5 354.1,185.3 352.7,184.8 351.3,184.3 349.9,183.5 348.5,182.6 347.1,181.5 345.8,180.3 344.5,179 343.3,177.6 342.1,176 340.9,174.3 339.9,172.6 338.9,170.7 338.1,168.9 337.3,166.9 336.6,164.9 336,162.9 335.6,160.9 335.2,158.9 335,157 334.9,155 334.9,153.2 335.1,151.3 335.3,149.6 335.7,148 336.2,146.4 336.8,145 337.6,143.7 338.4,142.6 339.3,141.6 340.3,140.7 341.4,140.1 342.6,139.6 343.8,139.2 345.1,139.1 346.5,139.1 347.9,139.3 349.3,139.7 350.7,140.2 352.2,140.9 353.6,141.8 355,142.9 355.6,143.4Z" fill="#CC960E" stroke="#1c0d02" stroke-width="0.7"/>
<path d="M346.5,139.1 345.1,139.1 343.8,139.2 342.6,139.6 341.4,140.1 340.3,140.7 339.3,141.6 338.4,142.6 337.6,143.7 336.8,145 336.2,146.4 335.7,148 335.3,149.6 335.1,151.3 334.9,153.2 334.9,155 335,157 335.2,158.9 335.6,160.9 336,162.9 336.6,164.9 337.3,166.9 338.1,168.9 338.9,170.7 339.9,172.6 340.9,174.3 342.1,176 343.3,177.6 344.5,179 345.8,180.3 347.1,181.5 348.5,182.6 349.9,183.5 351.3,184.3 352.7,184.8 354.1,185.3 355.5,185.5 356.8,185.6 358.1,185.5 359.4,185.2 360.6,184.8 361.7,184.1 362.7,183.4 363.7,182.4 364.3,181.7 363.5,181.5 362.1,181.1 360.7,180.5 359.3,179.8 357.9,178.9 356.6,177.9 355.2,176.7 353.9,175.3 352.7,173.9 351.5,172.4 350.4,170.7 349.3,169 348.4,167.1 347.5,165.3 346.8,163.3 346.1,161.4 345.5,159.4 345.1,157.4 344.8,155.4 344.5,153.4 344.5,151.5 344.5,149.7 344.6,147.9 344.9,146.1 345.3,144.5 345.8,143 346.4,141.6 347.2,140.3 347.9,139.3Z" fill="#C08E0C" stroke="#1c0d02" stroke-width="0.7"/>
<path d="M366.5,165.8 366,163.3 365.3,160.8 364.5,158.4 363.5,155.9 362.4,153.5 361.2,151.2 359.9,149 358.5,147 357,145 355.6,143.4 355,142.9 353.6,141.8 352.2,140.9 350.7,140.2 349.3,139.7 347.9,139.3 347.9,139.3 347.2,140.3 346.4,141.6 345.8,143 345.3,144.5 344.9,146.1 344.6,147.9 344.5,149.7 344.5,151.5 344.5,153.4 344.8,155.4 345.1,157.4 345.5,159.4 346.1,161.4 346.8,163.3 347.5,165.3 348.4,167.1 349.3,169 350.4,170.7 351.5,172.4 352.7,173.9 353.9,175.3 355.2,176.7 356.6,177.9 357.9,178.9 359.3,179.8 360.7,180.5 362.1,181.1 363.5,181.5 364.3,181.7 364.6,181.3 365.3,180.1 366,178.7 366.5,177.2 367,175.5 367.3,173.8 367.3,173.1 367.2,170.7 366.9,168.3Z" fill="none" stroke="#1c0d02" stroke-width="1.3"/>
<path d="M366.9,168.3 366.5,165.8 366,163.3 365.3,160.8 364.5,158.4 363.5,155.9 362.4,153.5 361.2,151.2 359.9,149 358.5,147 357,145 355.6,143.4 355,142.9 353.6,141.8 352.2,140.9 350.7,140.2 349.3,139.7 347.9,139.3 346.5,139.1 345.1,139.1 343.8,139.2 342.6,139.6 341.4,140.1 340.3,140.7 339.3,141.6 338.4,142.6 337.6,143.7 336.8,145 336.2,146.4 335.7,148 335.3,149.6 335.1,151.3 334.9,153.2 334.9,155 335,157 335.2,158.9 335.6,160.9 336,162.9 336.6,164.9 337.3,166.9 338.1,168.9 338.9,170.7 339.9,172.6 340.9,174.3 342.1,176 343.3,177.6 344.5,179 345.8,180.3 347.1,181.5 348.5,182.6 349.9,183.5 351.3,184.3 352.7,184.8 354.1,185.3 355.5,185.5 356.8,185.6 358.1,185.5 359.4,185.2 360.6,184.8 361.7,184.1 362.7,183.4 363.7,182.4 364.6,181.3 365.3,180.1 366,178.7 366.5,177.2 367,175.5 367.3,173.8 367.3,173.1 367.2,170.7Z" fill="none" stroke="#1c0d02" stroke-width="1"/>
<path d="M367.2,170.7 366.9,168.3 366.5,165.8 366,163.3 365.3,160.8 364.5,158.4 363.5,155.9 362.4,153.5 361.2,151.2 359.9,149 358.5,147 357,145 355.4,143.2 353.8,141.6 352.1,140.1 350.4,138.8 348.7,137.7 346.9,136.9 345.2,136.2 343.5,135.7 341.8,135.5 340.2,135.5 338.6,135.7 337.1,136.1 335.7,136.7 334.4,137.5 333.1,138.6 332,139.8 331,141.2 330.2,142.7 329.4,144.5 328.8,146.3 328.4,148.3 328.1,150.4 327.9,152.6 327.9,154.9 328,157.2 328.3,159.6 328.7,162 329.3,164.4 330,166.8 330.8,169.2 331.7,171.6 332.8,173.8 334,176 335.2,178.2 336.6,180.2 338,182.1 339.5,183.8 341.1,185.4 342.7,186.9 344.4,188.2 346,189.3 347.7,190.2 349.4,190.9 351.1,191.4 352.8,191.7 354.4,191.8 355.9,191.7 357.5,191.4 358.9,190.9 360.3,190.1 361.5,189.2 362.7,188 363.7,186.7 364.7,185.2 365.4,183.5 366.1,181.7 366.6,179.7 367,177.6 367.2,175.4 367.3,173.1Z" fill="none" stroke="#1c0d02" stroke-width="1.6"/>
<path d="M357.8,199.9 355.8,198.3 353.8,197 351.8,195.9 349.7,195 347.7,194.4 345.8,194.1 343.9,193.9 342.1,194.1 340.3,194.4 338.7,195 337.1,195.9 335.7,197 334.4,198.3 333.3,199.8 332.3,201.5 331.4,203.3 330.8,205.4 330.2,207.6 329.9,209.9 329.7,212.3 329.7,214.9 329.8,217.5 330.1,220.2 330.6,222.9 331.2,225.6 332,228.4 333,231.1 334.1,233.7 335.3,236.4 336.6,238.9 338.1,241.4 339.6,243.7 341.3,245.9 343,248 344.8,249.9 346.7,251.6 348.6,253.1 350.6,254.5 352.5,255.6 354.5,256.5 356.4,257.2 358.4,257.7 360.2,257.9 362.1,257.9 363.8,257.6 365.5,257.1 367.1,256.4 368.5,255.5 369.9,254.3 371.1,252.9 372.2,251.2 373.1,249.4 373.9,247.4 374.5,245.3 375,242.9 375.2,240.5 375.3,237.9 375.3,237.8 375.2,238.9 374.8,240.9 374.3,242.8 373.6,244.5 372.8,246 371.9,247.4 370.9,248.6 369.7,249.6 368.5,250.5 367.1,251.1 365.7,251.5 364.2,251.7 362.6,251.8 361,251.6 359.3,251.2 357.7,250.6 356,249.8 354.3,248.9 352.7,247.7 351,246.4 349.4,244.9 347.9,243.3 346.4,241.6 345,239.7 343.6,237.7 342.4,235.6 341.2,233.4 340.2,231.2 339.3,228.9 338.5,226.5 337.8,224.2 337.2,221.9 336.8,219.5 336.6,217.3 336.5,215 336.5,212.9 336.7,210.8 337,208.8 337.4,206.9 338,205.2 338.8,203.6 339.6,202.1 340.6,200.8 341.7,199.7 342.9,198.8 344.3,198.1 345.7,197.6 347.2,197.3 348.7,197.2 350.4,197.3 352,197.6 353.7,198.1 355.4,198.9 357.2,199.8 358.9,200.9 359.6,201.5Z" fill="#A87C06" stroke="#1c0d02" stroke-width="0.7"/>
<path d="M358.7,200.7 357.3,199.6 355.5,198.4 353.6,197.4 351.7,196.6 349.9,196 348.1,195.7 346.3,195.6 344.6,195.7 343,196 341.5,196.6 340,197.4 338.7,198.4 337.5,199.6 336.5,200.9 335.5,202.5 334.7,204.3 334.1,206.1 333.6,208.2 333.3,210.3 333.1,212.6 333.1,215 333.2,217.4 333.5,219.9 333.9,222.4 334.5,224.9 335.2,227.5 336.1,230 337.1,232.5 338.2,234.9 339.5,237.2 340.8,239.5 342.3,241.7 343.8,243.7 345.5,245.6 347.1,247.4 348.9,249 350.6,250.4 352.4,251.7 354.3,252.7 356.1,253.6 357.9,254.2 359.7,254.6 361.4,254.8 363.1,254.8 364.7,254.6 366.3,254.1 367.8,253.4 369.1,252.5 370.4,251.4 371.5,250.1 372.5,248.6 373.4,246.9 374.1,245.1 374.7,243.1 375.1,240.9 375.3,239.1 375.3,237.9 375.3,237.8 375.2,238.9 374.8,240.9 374.3,242.8 373.6,244.5 372.8,246 371.9,247.4 370.9,248.6 369.7,249.6 368.5,250.5 367.1,251.1 365.7,251.5 364.2,251.7 362.6,251.8 361,251.6 359.3,251.2 357.7,250.6 356,249.8 354.3,248.9 352.7,247.7 351,246.4 349.4,244.9 347.9,243.3 346.4,241.6 345,239.7 343.6,237.7 342.4,235.6 341.2,233.4 340.2,231.2 339.3,228.9 338.5,226.5 337.8,224.2 337.2,221.9 336.8,219.5 336.6,217.3 336.5,215 336.5,212.9 336.7,210.8 337,208.8 337.4,206.9 338,205.2 338.8,203.6 339.6,202.1 340.6,200.8 341.7,199.7 342.9,198.8 344.3,198.1 345.7,197.6 347.2,197.3 348.7,197.2 350.4,197.3 352,197.6 353.7,198.1 355.4,198.9 357.2,199.8 358.9,200.9 359.6,201.5Z" fill="#CC960E" stroke="#1c0d02" stroke-width="0.7"/>
<path d="M348.7,197.2 347.2,197.3 345.7,197.6 344.3,198.1 342.9,198.8 341.7,199.7 340.6,200.8 339.6,202.1 338.8,203.6 338,205.2 337.4,206.9 337,208.8 336.7,210.8 336.5,212.9 336.5,215 336.6,217.3 336.8,219.5 337.2,221.9 337.8,224.2 338.5,226.5 339.3,228.9 340.2,231.2 341.2,233.4 342.4,235.6 343.6,237.7 345,239.7 346.4,241.6 347.9,243.3 349.4,244.9 351,246.4 352.7,247.7 354.3,248.9 356,249.8 357.7,250.6 359.3,251.2 361,251.6 362.6,251.8 364.2,251.7 365.7,251.5 367.1,251.1 368.5,250.5 369.7,249.6 370.9,248.6 371.7,247.7 370.1,247.5 368.5,247.1 366.8,246.6 365.1,245.8 363.4,244.8 361.8,243.7 360.1,242.4 358.5,240.9 357,239.3 355.5,237.6 354.1,235.7 352.8,233.7 351.5,231.7 350.4,229.5 349.4,227.3 348.4,225 347.6,222.7 347,220.4 346.5,218 346.1,215.7 345.8,213.4 345.7,211.2 345.7,209.1 345.9,207 346.2,205 346.7,203.1 347.3,201.4 348.1,199.8 348.9,198.4 349.8,197.3Z" fill="#C08E0C" stroke="#1c0d02" stroke-width="0.7"/>
<path d="M374.5,229.7 373.9,226.8 373.1,224 372.1,221.2 371,218.4 369.8,215.6 368.4,213 366.8,210.4 365.2,208 363.5,205.7 361.6,203.6 359.7,201.6 359.6,201.5 358.9,200.9 357.2,199.8 355.4,198.9 353.7,198.1 352,197.6 350.4,197.3 349.8,197.3 348.9,198.4 348.1,199.8 347.3,201.4 346.7,203.1 346.2,205 345.9,207 345.7,209.1 345.7,211.2 345.8,213.4 346.1,215.7 346.5,218 347,220.4 347.6,222.7 348.4,225 349.4,227.3 350.4,229.5 351.5,231.7 352.8,233.7 354.1,235.7 355.5,237.6 357,239.3 358.5,240.9 360.1,242.4 361.8,243.7 363.4,244.8 365.1,245.8 366.8,246.6 368.5,247.1 370.1,247.5 371.7,247.7 371.9,247.4 372.8,246 373.6,244.5 374.3,242.8 374.8,240.9 375.2,238.9 375.3,237.8 375.2,235.2 375,232.5Z" fill="none" stroke="#1c0d02" stroke-width="1.3"/>
<path d="M375,232.5 374.5,229.7 373.9,226.8 373.1,224 372.1,221.2 371,218.4 369.8,215.6 368.4,213 366.8,210.4 365.2,208 363.5,205.7 361.6,203.6 359.7,201.6 359.6,201.5 358.9,200.9 357.2,199.8 355.4,198.9 353.7,198.1 352,197.6 350.4,197.3 348.7,197.2 347.2,197.3 345.7,197.6 344.3,198.1 342.9,198.8 341.7,199.7 340.6,200.8 339.6,202.1 338.8,203.6 338,205.2 337.4,206.9 337,208.8 336.7,210.8 336.5,212.9 336.5,215 336.6,217.3 336.8,219.5 337.2,221.9 337.8,224.2 338.5,226.5 339.3,228.9 340.2,231.2 341.2,233.4 342.4,235.6 343.6,237.7 345,239.7 346.4,241.6 347.9,243.3 349.4,244.9 351,246.4 352.7,247.7 354.3,248.9 356,249.8 357.7,250.6 359.3,251.2 361,251.6 362.6,251.8 364.2,251.7 365.7,251.5 367.1,251.1 368.5,250.5 369.7,249.6 370.9,248.6 371.9,247.4 372.8,246 373.6,244.5 374.3,242.8 374.8,240.9 375.2,238.9 375.3,237.8 375.2,235.2Z" fill="none" stroke="#1c0d02" stroke-width="1"/>
<path d="M375.2,235.2 375,232.5 374.5,229.7 373.9,226.8 373.1,224 372.1,221.2 371,218.4 369.8,215.6 368.4,213 366.8,210.4 365.2,208 363.5,205.7 361.6,203.6 359.7,201.6 357.8,199.9 355.8,198.3 353.8,197 351.8,195.9 349.7,195 347.7,194.4 345.8,194.1 343.9,193.9 342.1,194.1 340.3,194.4 338.7,195 337.1,195.9 335.7,197 334.4,198.3 333.3,199.8 332.3,201.5 331.4,203.3 330.8,205.4 330.2,207.6 329.9,209.9 329.7,212.3 329.7,214.9 329.8,217.5 330.1,220.2 330.6,222.9 331.2,225.6 332,228.4 333,231.1 334.1,233.7 335.3,236.4 336.6,238.9 338.1,241.4 339.6,243.7 341.3,245.9 343,248 344.8,249.9 346.7,251.6 348.6,253.1 350.6,254.5 352.5,255.6 354.5,256.5 356.4,257.2 358.4,257.7 360.2,257.9 362.1,257.9 363.8,257.6 365.5,257.1 367.1,256.4 368.5,255.5 369.9,254.3 371.1,252.9 372.2,251.2 373.1,249.4 373.9,247.4 374.5,245.3 375,242.9 375.2,240.5 375.3,237.9Z" fill="none" stroke="#1c0d02" stroke-width="1.6"/>
<path d="M427.8,359.6 426.9,353.7 425.7,347.7 424,341.5 423.6,340.4 424.9,345.3 426.1,350.8 426.9,356.2 427.3,361.5 427.4,366.5 427,371.3 426.3,375.9 425.3,380.1 423.9,384 422.2,387.5 420.1,390.6 417.8,393.3 415.2,395.6 412.3,397.4 409.2,398.8 405.9,399.7 402.5,400.1 398.9,400.1 395.1,399.6 391.3,398.7 387.5,397.4 383.6,395.6 379.6,393.5 375.7,390.9 371.9,388 368.1,384.7 364.5,381.1 360.9,377.2 357.5,373.1 354.3,368.7 351.2,364.1 348.4,359.3 345.8,354.4 343.4,349.4 341.3,344.3 339.5,339.1 337.9,333.9 336.7,328.8 335.8,323.7 335.2,318.7 334.9,313.8 335,309.1 335.4,304.6 336.1,300.4 337.1,296.3 338.5,292.6 340.2,289.2 342.2,286.2 344.5,283.6 347.1,281.3 350,279.5 353.1,278.1 356.4,277.2 360,276.7 363.7,276.8 367.6,277.3 371.6,278.3 375.7,279.8 379.8,281.8 384,284.3 388.1,287.1 392.3,290.5 396.3,294.2 400.2,298.3 403.7,302.4 402.7,301.1 398.6,296.2 394.3,291.8 389.9,287.7 385.4,284.1 380.9,280.9 376.3,278.3 371.8,276.1 367.4,274.5 363,273.4 358.8,272.8 354.7,272.8 350.9,273.3 347.3,274.3 343.9,275.8 340.8,277.8 338,280.3 335.5,283.2 333.3,286.5 331.5,290.2 330,294.3 328.9,298.6 328.2,303.3 327.8,308.2 327.7,313.3 328,318.6 328.7,324 329.7,329.5 331.1,335.1 332.8,340.8 334.8,346.4 337,351.9 339.6,357.4 342.4,362.7 345.5,367.9 348.8,372.9 352.3,377.7 356,382.2 359.9,386.4 363.9,390.3 368,393.9 372.1,397.1 376.4,399.9 380.6,402.2 384.8,404.2 389.1,405.7 393.2,406.7 397.2,407.2 401.2,407.3 404.9,406.8 408.5,405.8 411.9,404.4 415,402.4 417.8,400 420.4,397.1 422.6,393.7 424.5,389.9 426,385.7 427.2,381.1 428,376.1 428.3,370.9 428.3,365.4Z" fill="#A87C06" stroke="#1c0d02" stroke-width="0.7"/>
<path d="M403.2,301.7 399.4,297.2 395.3,293 391.1,289.1 386.8,285.6 382.4,282.6 378.1,280 373.8,278 369.5,276.4 365.3,275.4 361.3,274.8 357.4,274.8 353.7,275.2 350.2,276.2 346.9,277.7 344,279.6 341.3,281.9 338.9,284.7 336.8,287.9 335,291.4 333.6,295.3 332.5,299.5 331.8,304 331.4,308.7 331.3,313.6 331.6,318.6 332.3,323.9 333.2,329.2 334.5,334.5 336.1,339.9 338,345.3 340.2,350.6 342.7,355.9 345.4,361 348.4,366 351.5,370.8 354.9,375.4 358.5,379.7 362.2,383.8 366,387.5 369.9,390.9 373.9,394 378,396.7 382.1,398.9 386.2,400.8 390.2,402.2 394.2,403.2 398.1,403.7 401.8,403.7 405.4,403.2 408.9,402.3 412.1,400.9 415.1,399 417.8,396.6 420.2,393.8 422.4,390.6 424.2,386.9 425.7,382.9 426.8,378.5 427.5,373.7 427.8,368.7 427.8,363.4 427.4,357.9 426.5,352.2 425.3,346.5 423.8,340.9 423.6,340.4 424.9,345.3 426.1,350.8 426.9,356.2 427.3,361.5 427.4,366.5 427,371.3 426.3,375.9 425.3,380.1 423.9,384 422.2,387.5 420.1,390.6 417.8,393.3 415.2,395.6 412.3,397.4 409.2,398.8 405.9,399.7 402.5,400.1 398.9,400.1 395.1,399.6 391.3,398.7 387.5,397.4 383.6,395.6 379.6,393.5 375.7,390.9 371.9,388 368.1,384.7 364.5,381.1 360.9,377.2 357.5,373.1 354.3,368.7 351.2,364.1 348.4,359.3 345.8,354.4 343.4,349.4 341.3,344.3 339.5,339.1 337.9,333.9 336.7,328.8 335.8,323.7 335.2,318.7 334.9,313.8 335,309.1 335.4,304.6 336.1,300.4 337.1,296.3 338.5,292.6 340.2,289.2 342.2,286.2 344.5,283.6 347.1,281.3 350,279.5 353.1,278.1 356.4,277.2 360,276.7 363.7,276.8 367.6,277.3 371.6,278.3 375.7,279.8 379.8,281.8 384,284.3 388.1,287.1 392.3,290.5 396.3,294.2 400.2,298.3 403.7,302.4Z" fill="#CC960E" stroke="#1c0d02" stroke-width="0.7"/>
<path d="M353.1,278.1 350,279.5 347.1,281.3 344.5,283.6 342.2,286.2 340.2,289.2 338.5,292.6 337.1,296.3 336.1,300.4 335.4,304.6 335,309.1 334.9,313.8 335.2,318.7 335.8,323.7 336.7,328.8 337.9,333.9 339.5,339.1 341.3,344.3 343.4,349.4 345.8,354.4 348.4,359.3 351.2,364.1 354.3,368.7 357.5,373.1 360.9,377.2 364.5,381.1 368.1,384.7 371.9,388 375.7,390.9 379.6,393.5 383.6,395.6 387.5,397.4 391.3,398.7 395.1,399.6 398.9,400.1 402.5,400.1 405.9,399.7 409.2,398.8 412.3,397.4 415.2,395.6 416.8,394.1 414.4,394.8 410.9,395.3 407.3,395.3 403.6,394.8 399.8,393.9 395.9,392.6 392,390.9 388.1,388.7 384.2,386.2 380.4,383.3 376.6,380.1 372.9,376.5 369.4,372.7 366,368.5 362.8,364.2 359.7,359.6 356.9,354.9 354.3,350 352,345 349.9,339.9 348.1,334.8 346.6,329.6 345.4,324.5 344.5,319.4 343.9,314.5 343.7,309.6 343.7,304.9 344.1,300.4 344.9,296.2 346,292.2 347.4,288.5 349.1,285.1 351.1,282.1 353.4,279.4 355.8,277.4Z" fill="#C08E0C" stroke="#1c0d02" stroke-width="0.7"/>
<path d="M350,279.5 347.1,281.3 344.5,283.6 342.2,286.2 340.2,289.2 338.5,292.6 337.1,296.3 336.1,300.4 335.4,304.6 335,309.1 334.9,313.8 335.2,318.7 335.8,323.7 336.7,328.8 337.9,333.9 339.5,339.1 341.3,344.3 343.4,349.4 345.8,354.4 348.4,359.3 351.2,364.1 354.3,368.7 357.5,373.1 360.9,377.2 364.5,381.1 368.1,384.7 371.9,388 375.7,390.9 379.6,393.5 383.6,395.6 387.5,397.4 391.3,398.7 395.1,399.6 398.9,400.1 402.5,400.1 405.9,399.7 409.2,398.8 412.3,397.4 413.4,396.7 410.9,397.8 407.6,398.7 404.1,399.2 400.5,399.2 396.8,398.7 393,397.8 389.1,396.5 385.2,394.7 381.3,392.5 377.4,390 373.5,387.1 369.8,383.8 366.1,380.2 362.5,376.4 359.1,372.2 355.9,367.8 352.9,363.2 350,358.5 347.4,353.6 345.1,348.5 343,343.4 341.1,338.3 339.6,333.1 338.4,328 337.5,322.9 336.9,317.9 336.6,313 336.7,308.3 337.1,303.8 337.8,299.5 338.8,295.5 340.2,291.8 341.9,288.4 343.9,285.4 346.2,282.8 348.8,280.5 351.5,278.8Z" fill="#ECE9A4" stroke="#1c0d02" stroke-width="0.6"/>
<path d="M419.5,329.3 416.7,323.3 413.6,317.4 410.2,311.7 406.6,306.2 403.7,302.4 400.2,298.3 396.3,294.2 392.3,290.5 388.1,287.1 384,284.3 379.8,281.8 375.7,279.8 371.6,278.3 367.6,277.3 363.7,276.8 360,276.7 356.4,277.2 355.8,277.4 353.4,279.4 351.1,282.1 349.1,285.1 347.4,288.5 346,292.2 344.9,296.2 344.1,300.4 343.7,304.9 343.7,309.6 343.9,314.5 344.5,319.4 345.4,324.5 346.6,329.6 348.1,334.8 349.9,339.9 352,345 354.3,350 356.9,354.9 359.7,359.6 362.8,364.2 366,368.5 369.4,372.7 372.9,376.5 376.6,380.1 380.4,383.3 384.2,386.2 388.1,388.7 392,390.9 395.9,392.6 399.8,393.9 403.6,394.8 407.3,395.3 410.9,395.3 414.4,394.8 416.8,394.1 417.8,393.3 420.1,390.6 422.2,387.5 423.9,384 425.3,380.1 426.3,375.9 427,371.3 427.4,366.5 427.3,361.5 426.9,356.2 426.1,350.8 424.9,345.3 423.6,340.4 421.9,335.4Z" fill="none" stroke="#1c0d02" stroke-width="1.3"/>
<path d="M421.9,335.4 419.5,329.3 416.7,323.3 413.6,317.4 410.2,311.7 406.6,306.2 403.7,302.4 400.2,298.3 396.3,294.2 392.3,290.5 388.1,287.1 384,284.3 379.8,281.8 375.7,279.8 371.6,278.3 367.6,277.3 363.7,276.8 360,276.7 356.4,277.2 353.1,278.1 350,279.5 347.1,281.3 344.5,283.6 342.2,286.2 340.2,289.2 338.5,292.6 337.1,296.3 336.1,300.4 335.4,304.6 335,309.1 334.9,313.8 335.2,318.7 335.8,323.7 336.7,328.8 337.9,333.9 339.5,339.1 341.3,344.3 343.4,349.4 345.8,354.4 348.4,359.3 351.2,364.1 354.3,368.7 357.5,373.1 360.9,377.2 364.5,381.1 368.1,384.7 371.9,388 375.7,390.9 379.6,393.5 383.6,395.6 387.5,397.4 391.3,398.7 395.1,399.6 398.9,400.1 402.5,400.1 405.9,399.7 409.2,398.8 412.3,397.4 415.2,395.6 417.8,393.3 420.1,390.6 422.2,387.5 423.9,384 425.3,380.1 426.3,375.9 427,371.3 427.4,366.5 427.3,361.5 426.9,356.2 426.1,350.8 424.9,345.3 423.6,340.4Z" fill="none" stroke="#1c0d02" stroke-width="1"/>
<path d="M428.3,365.4 427.8,359.6 426.9,353.7 425.7,347.7 424,341.5 421.9,335.4 419.5,329.3 416.7,323.3 413.6,317.4 410.2,311.7 406.6,306.2 402.7,301.1 398.6,296.2 394.3,291.8 389.9,287.7 385.4,284.1 380.9,280.9 376.3,278.3 371.8,276.1 367.4,274.5 363,273.4 358.8,272.8 354.7,272.8 350.9,273.3 347.3,274.3 343.9,275.8 340.8,277.8 338,280.3 335.5,283.2 333.3,286.5 331.5,290.2 330,294.3 328.9,298.6 328.2,303.3 327.8,308.2 327.7,313.3 328,318.6 328.7,324 329.7,329.5 331.1,335.1 332.8,340.8 334.8,346.4 337,351.9 339.6,357.4 342.4,362.7 345.5,367.9 348.8,372.9 352.3,377.7 356,382.2 359.9,386.4 363.9,390.3 368,393.9 372.1,397.1 376.4,399.9 380.6,402.2 384.8,404.2 389.1,405.7 393.2,406.7 397.2,407.2 401.2,407.3 404.9,406.8 408.5,405.8 411.9,404.4 415,402.4 417.8,400 420.4,397.1 422.6,393.7 424.5,389.9 426,385.7 427.2,381.1 428,376.1 428.3,370.9Z" fill="none" stroke="#1c0d02" stroke-width="1.6"/>
<path d="M298.9,89.9 L440.7,132.7" stroke="#1c0d02" stroke-width="2.5" fill="none"/>
<path d="M440.7,132.7 L451.6,447.2" stroke="#1c0d02" stroke-width="2.5" fill="none"/>
<path d="M403.8,57 298.9,89.9 327,383.1 451.6,447.2 541.1,390.6 544.5,93.1ZM367,177.6 366.6,179.7 366.1,181.7 365.4,183.5 364.7,185.2 363.7,186.7 362.7,188 361.5,189.2 360.3,190.1 358.9,190.9 357.5,191.4 355.9,191.7 354.4,191.8 352.8,191.7 351.1,191.4 349.4,190.9 347.7,190.2 346,189.3 344.4,188.2 342.7,186.9 341.1,185.4 339.5,183.8 338,182.1 336.6,180.2 335.2,178.2 334,176 332.8,173.8 331.7,171.6 330.8,169.2 330,166.8 329.3,164.4 328.7,162 328.3,159.6 328,157.2 327.9,154.9 327.9,152.6 328.1,150.4 328.4,148.3 328.8,146.3 329.4,144.5 330.2,142.7 331,141.2 332,139.8 333.1,138.6 334.4,137.5 335.7,136.7 337.1,136.1 338.6,135.7 340.2,135.5 341.8,135.5 343.5,135.7 345.2,136.2 346.9,136.9 348.7,137.7 350.4,138.8 352.1,140.1 353.8,141.6 355.4,143.2 357,145 358.5,147 359.9,149 361.2,151.2 362.4,153.5 363.5,155.9 364.5,158.4 365.3,160.8 366,163.3 366.5,165.8 366.9,168.3 367.2,170.7 367.3,173.1 367.2,175.4ZM375,242.9 374.5,245.3 373.9,247.4 373.1,249.4 372.2,251.2 371.1,252.9 369.9,254.3 368.5,255.5 367.1,256.4 365.5,257.1 363.8,257.6 362.1,257.9 360.2,257.9 358.4,257.7 356.4,257.2 354.5,256.5 352.5,255.6 350.6,254.5 348.6,253.1 346.7,251.6 344.8,249.9 343,248 341.3,245.9 339.6,243.7 338.1,241.4 336.6,238.9 335.3,236.4 334.1,233.7 333,231.1 332,228.4 331.2,225.6 330.6,222.9 330.1,220.2 329.8,217.5 329.7,214.9 329.7,212.3 329.9,209.9 330.2,207.6 330.8,205.4 331.4,203.3 332.3,201.5 333.3,199.8 334.4,198.3 335.7,197 337.1,195.9 338.7,195 340.3,194.4 342.1,194.1 343.9,193.9 345.8,194.1 347.7,194.4 349.7,195 351.8,195.9 353.8,197 355.8,198.3 357.8,199.9 359.7,201.6 361.6,203.6 363.5,205.7 365.2,208 366.8,210.4 368.4,213 369.8,215.6 371,218.4 372.1,221.2 373.1,224 373.9,226.8 374.5,229.7 375,232.5 375.2,235.2 375.3,237.9 375.2,240.5ZM427.2,381.1 426,385.7 424.5,389.9 422.6,393.7 420.4,397.1 417.8,400 415,402.4 411.9,404.4 408.5,405.8 404.9,406.8 401.2,407.3 397.2,407.2 393.2,406.7 389.1,405.7 384.8,404.2 380.6,402.2 376.4,399.9 372.1,397.1 368,393.9 363.9,390.3 359.9,386.4 356,382.2 352.3,377.7 348.8,372.9 345.5,367.9 342.4,362.7 339.6,357.4 337,351.9 334.8,346.4 332.8,340.8 331.1,335.1 329.7,329.5 328.7,324 328,318.6 327.7,313.3 327.8,308.2 328.2,303.3 328.9,298.6 330,294.3 331.5,290.2 333.3,286.5 335.5,283.2 338,280.3 340.8,277.8 343.9,275.8 347.3,274.3 350.9,273.3 354.7,272.8 358.8,272.8 363,273.4 367.4,274.5 371.8,276.1 376.3,278.3 380.9,280.9 385.4,284.1 389.9,287.7 394.3,291.8 398.6,296.2 402.7,301.1 406.6,306.2 410.2,311.7 413.6,317.4 416.7,323.3 419.5,329.3 421.9,335.4 424,341.5 425.7,347.7 426.9,353.7 427.8,359.6 428.3,365.4 428.3,370.9 428,376.1Z" fill="none" stroke="#1c0d02" stroke-width="2.7"/>
<path d="M533,520.6 679.6,599.1 761.7,523.8 619.1,457.1Z" fill="#B08308" stroke="#1c0d02" stroke-width="1"/>
<path d="M533,520.6 679.6,599.1 687.4,611.2 526,524Z" fill="#A87C06" stroke="#1c0d02" stroke-width="1"/>
<path d="M679.6,599.1 761.7,523.8 768.9,534.9 687.4,611.2Z" fill="#D49E10" stroke="#1c0d02" stroke-width="1"/>
<path d="M619.1,457.1 533,520.6 526,524 687.4,611.2 768.9,534.9 761.7,523.8Z" fill="none" stroke="#1c0d02" stroke-width="2.2"/>
<path d="M551.9,506.6 L711.8,588.4" stroke="#c0181c" stroke-width="1" fill="none"/>
<path d="M658.6,114.7 830.1,157.9 786.8,465.2 640.7,402.5Z" fill="#C8940C" stroke="#1c0d02" stroke-width="1"/>
<path d="M658.6,114.7 830.1,157.9 835.2,154.9 664.1,112.2Z" fill="#B08308" stroke="#1c0d02" stroke-width="1"/>
<path d="M830.1,157.9 835.2,154.9 791.5,461.1 786.8,465.2Z" fill="#B58708" stroke="#1c0d02" stroke-width="1"/>
<path d="M664.1,112.2 658.6,114.7 640.7,402.5 786.8,465.2 791.5,461.1 835.2,154.9Z" fill="none" stroke="#1c0d02" stroke-width="2.2"/>
<path d="M490.5,157.5 592.9,114.8 583.4,401.9 494.3,461.3Z" fill="#B58708" stroke="#1c0d02" stroke-width="1"/>
<path d="M482.4,145 585.5,103.3 592.9,114.8 490.5,157.5Z" fill="#DAA212" stroke="#1c0d02" stroke-width="1"/>
<path d="M482.4,145 490.5,157.5 494.3,461.3 487.6,465.3Z" fill="#D49E10" stroke="#1c0d02" stroke-width="1"/>
<path d="M585.5,103.3 482.4,145 487.6,465.3 494.3,461.3 583.4,401.9 592.9,114.8Z" fill="none" stroke="#1c0d02" stroke-width="2.2"/>
<path d="M571.2,341.6 704.2,386.9 703.4,393.4 570.4,348.1Z" fill="#E0DC94" stroke="#1c0d02" stroke-width="1"/>
<path d="M704.2,386.9 767,324.3 766.2,330.8 703.4,393.4Z" fill="#D6D286" stroke="#1c0d02" stroke-width="1"/>
<path d="M683.2,302 636.6,286.2 612.4,310.3 616.9,311.8 636.1,292.7 678.2,307Z" fill="#D6D286" stroke="#1c0d02" stroke-width="0.8"/>
<path d="M755,326.5 691.1,304.8 667,328.9 671.4,330.4 690.6,311.3 750,331.5Z" fill="#D6D286" stroke="#1c0d02" stroke-width="0.8"/>
<path d="M654,331.2 607.4,315.3 583.2,339.4 587.7,340.9 606.9,321.8 649,336.1Z" fill="#D6D286" stroke="#1c0d02" stroke-width="0.8"/>
<path d="M725.8,355.6 661.9,333.9 637.8,358 642.2,359.5 661.4,340.4 720.8,360.6Z" fill="#D6D286" stroke="#1c0d02" stroke-width="0.8"/>
<path d="M634,279 571.2,341.6 704.2,386.9 767,324.3ZM636.6,286.2 683.2,302 659,326.1 612.4,310.3ZM667,328.9 691.1,304.8 755,326.5 730.8,350.6ZM629.8,355.3 583.2,339.4 607.4,315.3 654,331.2ZM725.8,355.6 701.6,379.7 637.8,358 661.9,333.9Z" fill="#ECE9A4" fill-rule="evenodd" stroke="#1c0d02" stroke-width="1.2"/>
<path d="M634,279 571.2,341.6 570.4,348.1 703.4,393.4 766.2,330.8 767,324.3Z" fill="none" stroke="#1c0d02" stroke-width="2"/>
<path d="M542.5,208.8 617.5,232.5 613,335 540,310Z" fill="#ECE814" stroke="#1c0d02" stroke-width="1"/>
<path d="M542.5,208.8 549,206.5 623.8,230 617.5,232.5Z" fill="#E2DE2E" stroke="#1c0d02" stroke-width="1"/>
<path d="M617.5,232.5 623.8,230 619.5,332 613,335Z" fill="#D6D01E" stroke="#1c0d02" stroke-width="1"/>
<path d="M549,206.5 542.5,208.8 540,310 613,335 619.5,332 623.8,230Z" fill="none" stroke="#1c0d02" stroke-width="2"/>
<path d="M477.5,176.2 502.5,165.5 583.8,191.2 558.8,203.8Z" fill="#E2DE2E" stroke="#1c0d02" stroke-width="1"/>
<path d="M477.5,176.2 558.8,203.8 558.8,210 477.5,182.5Z" fill="#ECE814" stroke="#1c0d02" stroke-width="1"/>
<path d="M558.8,203.8 583.8,191.2 583.8,196.5 558.8,210Z" fill="#D6D01E" stroke="#1c0d02" stroke-width="1"/>
<path d="M502.5,165.5 477.5,176.2 477.5,182.5 558.8,210 583.8,196.5 583.8,191.2Z" fill="none" stroke="#1c0d02" stroke-width="2"/>
<path d="M440,225 462.5,216.2 466,345 442.5,352Z" fill="#D6D01E" stroke="#1c0d02" stroke-width="1"/>
<path d="M435,223.8 440,225 442.5,352 437.5,350Z" fill="#ECE814" stroke="#1c0d02" stroke-width="1"/>
<path d="M435,223.8 457.5,215 462.5,216.2 440,225Z" fill="#E2DE2E" stroke="#1c0d02" stroke-width="1"/>
<path d="M457.5,215 435,223.8 437.5,350 442.5,352 466,345 462.5,216.2Z" fill="none" stroke="#1c0d02" stroke-width="2"/>
<path d="M782,235.2 874.2,177.1 819.5,514.8 737.8,593.7Z" fill="#B58708" stroke="#1c0d02" stroke-width="1"/>
<path d="M771,241 782,235.2 737.8,593.7 731,584Z" fill="#CE9A10" stroke="#1c0d02" stroke-width="1"/>
<path d="M737.8,593.7 819.5,514.8 874.2,177.1 782,235.2 782,235.2 771,241 731,584 737.8,593.7Z" fill="none" stroke="#1c0d02" stroke-width="2.2"/>
<path d="M527.8,100.9 729.4,154.2 825.2,104.9 630.8,61.4Z" fill="#B08308" stroke="#1c0d02" stroke-width="1"/>
<path d="M527.8,100.9 729.4,154.2 717.6,163.1 536.2,113.9Z" fill="#C08E0C" stroke="#1c0d02" stroke-width="1"/>
<path d="M729.4,154.2 825.2,104.9 813.5,113.5 717.6,163.1Z" fill="#A87C06" stroke="#1c0d02" stroke-width="1"/>
<path d="M630.8,61.4 527.8,100.9 536.2,113.9 717.6,163.1 813.5,113.5 825.2,104.9Z" fill="none" stroke="#1c0d02" stroke-width="2.2"/>
<path d="M411.2,220.5 598.3,289.7 606.4,285 419.7,216.8Z" fill="#E2DE2E" stroke="#1c0d02" stroke-width="1"/>
<path d="M598.3,289.7 606.4,285 591.4,640.9 584.5,646.9Z" fill="#D6D01E" stroke="#1c0d02" stroke-width="1"/>
<path d="M411.2,220.5 598.3,289.7 584.5,646.9 427.7,553.3ZM433.7,253.9 567.1,305.6 563.5,457.7 439.4,397.5ZM572,550.9 571.9,544.4 571.3,537.7 570.1,530.8 568.3,523.6 566.1,516.4 563.2,509.1 559.9,501.9 556.2,494.7 552,487.7 547.4,480.9 542.4,474.3 537.2,468.1 531.7,462.3 526,456.9 520.1,452 514.1,447.6 508.1,443.7 502,440.5 496.1,437.8 490.2,435.8 484.5,434.3 478.9,433.5 473.6,433.4 468.6,433.8 463.9,434.8 459.5,436.5 455.5,438.7 451.9,441.4 448.7,444.7 446,448.4 443.7,452.6 441.8,457.2 440.4,462.1 439.5,467.4 439.1,473 439.1,478.9 439.6,485 440.5,491.2 441.9,497.6 443.7,504 445.9,510.5 448.6,517 451.6,523.5 455,529.9 458.7,536.1 462.7,542.2 467.1,548.1 471.7,553.8 476.5,559.2 481.6,564.3 486.8,569 492.2,573.4 497.6,577.3 503.2,580.8 508.8,583.9 514.4,586.4 519.9,588.4 525.4,589.9 530.8,590.8 536,591.1 541,590.9 545.7,590 550.2,588.6 554.3,586.5 558.1,583.9 561.5,580.7 564.5,577 567,572.7 569,567.9 570.6,562.6 571.6,556.9Z" fill="#ECE814" fill-rule="evenodd" stroke="#1c0d02" stroke-width="1"/>
<path d="M563.5,457.7 563.7,448.8 447.1,392.9 439.4,397.5Z" fill="#E2DE2E" stroke="#1c0d02" stroke-width="0.8"/>
<path d="M439.4,397.5 447.1,392.9 442.3,257.2 433.7,253.9Z" fill="#D6D01E" stroke="#1c0d02" stroke-width="0.8"/>
<path d="M433.7,253.9 567.1,305.6 563.5,457.7 439.4,397.5Z" fill="none" stroke="#1c0d02" stroke-width="1.5"/>
<path d="M459.5,436.5 455.5,438.7 451.9,441.4 448.7,444.7 446,448.4 443.7,452.6 441.8,457.2 440.4,462.1 439.5,467.4 439.1,473 439.1,478.9 439.6,485 440.5,491.2 441.9,497.6 443.7,504 445.9,510.5 448.6,517 451.6,523.5 455,529.9 458.7,536.1 462.7,542.2 467.1,548.1 471.7,553.8 476.5,559.2 481.6,564.3 486.8,569 492.2,573.4 497.6,577.3 503.2,580.8 508.8,583.9 514.4,586.4 519.9,588.4 525.4,589.9 530.8,590.8 536,591.1 541,590.9 545.7,590 550.2,588.6 554.3,586.5 558.1,583.9 561.4,580.8 561.4,580.8 557.2,582.9 552.8,584.3 548,585.2 543,585.5 537.8,585.2 532.4,584.3 527,582.9 521.4,580.9 515.8,578.4 510.2,575.4 504.7,571.9 499.2,568 493.9,563.7 488.6,559 483.6,554 478.8,548.6 474.2,543 469.9,537.1 465.8,531.1 462.1,524.8 458.8,518.5 455.8,512.1 453.2,505.6 451,499.1 449.2,492.7 447.8,486.3 446.9,480.1 446.5,474.1 446.5,468.3 446.9,462.7 447.9,457.4 449.3,452.4 451.2,447.8 453.5,443.7 456.3,439.9 459.5,436.7 459.9,436.3Z" fill="#D6D01E" stroke="#1c0d02" stroke-width="0.8"/>
<path d="M571.9,544.4 571.3,537.7 570.1,530.8 568.3,523.6 566.1,516.4 563.2,509.1 559.9,501.9 556.2,494.7 552,487.7 547.4,480.9 542.4,474.3 537.2,468.1 531.7,462.3 526,456.9 520.1,452 514.1,447.6 508.1,443.7 502,440.5 496.1,437.8 490.2,435.8 484.5,434.3 478.9,433.5 473.6,433.4 468.6,433.8 463.9,434.8 459.9,436.3 459.5,436.7 456.3,439.9 453.5,443.7 451.2,447.8 449.3,452.4 447.9,457.4 446.9,462.7 446.5,468.3 446.5,474.1 446.9,480.1 447.8,486.3 449.2,492.7 451,499.1 453.2,505.6 455.8,512.1 458.8,518.5 462.1,524.8 465.8,531.1 469.9,537.1 474.2,543 478.8,548.6 483.6,554 488.6,559 493.9,563.7 499.2,568 504.7,571.9 510.2,575.4 515.8,578.4 521.4,580.9 527,582.9 532.4,584.3 537.8,585.2 543,585.5 548,585.2 552.8,584.3 557.2,582.9 561.4,580.8 561.4,580.8 561.5,580.7 564.5,577 567,572.7 569,567.9 570.6,562.6 571.6,556.9 572,550.9Z" fill="none" stroke="#1c0d02" stroke-width="1.2"/>
<path d="M572,550.9 571.9,544.4 571.3,537.7 570.1,530.8 568.3,523.6 566.1,516.4 563.2,509.1 559.9,501.9 556.2,494.7 552,487.7 547.4,480.9 542.4,474.3 537.2,468.1 531.7,462.3 526,456.9 520.1,452 514.1,447.6 508.1,443.7 502,440.5 496.1,437.8 490.2,435.8 484.5,434.3 478.9,433.5 473.6,433.4 468.6,433.8 463.9,434.8 459.5,436.5 455.5,438.7 451.9,441.4 448.7,444.7 446,448.4 443.7,452.6 441.8,457.2 440.4,462.1 439.5,467.4 439.1,473 439.1,478.9 439.6,485 440.5,491.2 441.9,497.6 443.7,504 445.9,510.5 448.6,517 451.6,523.5 455,529.9 458.7,536.1 462.7,542.2 467.1,548.1 471.7,553.8 476.5,559.2 481.6,564.3 486.8,569 492.2,573.4 497.6,577.3 503.2,580.8 508.8,583.9 514.4,586.4 519.9,588.4 525.4,589.9 530.8,590.8 536,591.1 541,590.9 545.7,590 550.2,588.6 554.3,586.5 558.1,583.9 561.5,580.7 564.5,577 567,572.7 569,567.9 570.6,562.6 571.6,556.9Z" fill="none" stroke="#1c0d02" stroke-width="1.5"/>
<path d="M419.7,216.8 411.2,220.5 427.7,553.3 584.5,646.9 591.4,640.9 606.4,285ZM563.5,457.7 439.4,397.5 433.7,253.9 567.1,305.6ZM570.6,562.6 569,567.9 567,572.7 564.5,577 561.5,580.7 558.1,583.9 554.3,586.5 550.2,588.6 545.7,590 541,590.9 536,591.1 530.8,590.8 525.4,589.9 519.9,588.4 514.4,586.4 508.8,583.9 503.2,580.8 497.6,577.3 492.2,573.4 486.8,569 481.6,564.3 476.5,559.2 471.7,553.8 467.1,548.1 462.7,542.2 458.7,536.1 455,529.9 451.6,523.5 448.6,517 445.9,510.5 443.7,504 441.9,497.6 440.5,491.2 439.6,485 439.1,478.9 439.1,473 439.5,467.4 440.4,462.1 441.8,457.2 443.7,452.6 446,448.4 448.7,444.7 451.9,441.4 455.5,438.7 459.5,436.5 463.9,434.8 468.6,433.8 473.6,433.4 478.9,433.5 484.5,434.3 490.2,435.8 496.1,437.8 502,440.5 508.1,443.7 514.1,447.6 520.1,452 526,456.9 531.7,462.3 537.2,468.1 542.4,474.3 547.4,480.9 552,487.7 556.2,494.7 559.9,501.9 563.2,509.1 566.1,516.4 568.3,523.6 570.1,530.8 571.3,537.7 571.9,544.4 572,550.9 571.6,556.9Z" fill="none" stroke="#1c0d02" stroke-width="2.2"/>
<path d="M605,287.5 632.5,276.2 628.8,410 602.5,422.5Z" fill="#D6D01E" stroke="#1c0d02" stroke-width="1"/>
<path d="M598.8,287.5 605,287.5 602.5,422.5 597.5,421Z" fill="#ECE814" stroke="#1c0d02" stroke-width="1"/>
<path d="M598.8,287.5 626,275 632.5,276.2 605,287.5Z" fill="#E2DE2E" stroke="#1c0d02" stroke-width="1"/>
<path d="M626,275 598.8,287.5 597.5,421 602.5,422.5 628.8,410 632.5,276.2Z" fill="none" stroke="#1c0d02" stroke-width="2"/>
<path d="M354.1,231.9 559.7,312.9 529.2,333.6 364.6,265.3Z" fill="#DAA212" stroke="#1c0d02" stroke-width="1"/>
<path d="M559.7,312.9 552,694.5 527.4,671.9 529.2,333.6Z" fill="#D49E10" stroke="#1c0d02" stroke-width="1"/>
<path d="M381.1,585.1 552,694.5 527.4,671.9 387.7,583.1Z" fill="#B4860A" stroke="#1c0d02" stroke-width="1"/>
<path d="M381.1,585.1 354.1,231.9 364.6,265.3 387.7,583.1Z" fill="#A87C06" stroke="#1c0d02" stroke-width="1"/>
<path d="M364.6,265.3 387.7,583.1 527.4,671.9 529.2,333.6 523,331.1 522.6,510.2 378.9,433.7 366.9,266.2ZM523.6,595.6 523.3,602 522.4,608 521,613.5 519,618.5 516.5,622.9 513.5,626.8 510.1,630 506.2,632.6 502,634.5 497.4,635.8 492.5,636.5 487.4,636.5 482,635.9 476.5,634.7 470.8,632.9 465,630.5 459.2,627.6 453.3,624.2 447.5,620.2 441.8,615.8 436.1,611 430.6,605.7 425.3,600.2 420.2,594.3 415.3,588.1 410.7,581.7 406.3,575 402.3,568.3 398.7,561.4 395.4,554.5 392.5,547.5 390,540.5 387.9,533.6 386.3,526.9 385.1,520.2 384.4,513.8 384.2,507.6 384.5,501.7 385.2,496.1 386.5,490.9 388.2,486.1 390.5,481.7 393.2,477.8 396.3,474.5 399.9,471.7 403.9,469.5 408.4,467.9 413.2,467 418.3,466.7 423.8,467 429.5,468.1 435.5,469.8 441.6,472.2 447.8,475.2 454.2,478.9 460.5,483.2 466.9,488.2 473.1,493.6 479.2,499.6 485.1,506 490.7,512.8 496,520 501,527.4 505.6,535.1 509.7,542.9 513.3,550.8 516.4,558.7 519,566.5 521,574.1 522.5,581.6 523.3,588.7Z" fill="#CC960E" fill-rule="evenodd" stroke="#1c0d02" stroke-width="1"/>
<path d="M522.6,510.2 522.6,499.9 387.3,428.7 378.9,433.7Z" fill="#B08308" stroke="#1c0d02" stroke-width="0.8"/>
<path d="M378.9,433.7 387.3,428.7 376.6,270.2 366.9,266.2Z" fill="#B58708" stroke="#1c0d02" stroke-width="0.8"/>
<path d="M366.9,266.2 523,331.1 522.6,510.2 378.9,433.7Z" fill="none" stroke="#1c0d02" stroke-width="1.6"/>
<path d="M523.3,588.7 522.5,581.6 521,574.1 519,566.5 516.4,558.7 515.6,556.7 517.4,562.1 519.3,569.1 520.6,575.9 521.4,582.4 521.6,588.7 521.4,594.6 520.6,600.1 519.2,605.2 517.4,609.8 515.2,613.9 512.4,617.4 509.3,620.4 505.8,622.8 501.9,624.7 497.7,625.9 493.2,626.6 488.5,626.6 483.6,626.1 478.5,625.1 473.2,623.5 467.9,621.3 462.6,618.7 457.2,615.5 451.8,611.9 446.5,607.9 441.3,603.5 436.2,598.7 431.3,593.5 426.6,588.1 422.1,582.4 417.8,576.5 413.8,570.4 410.1,564.2 406.7,557.9 403.7,551.5 401,545.1 398.8,538.6 396.9,532.3 395.4,526 394.4,519.9 393.8,514 393.6,508.3 393.9,502.9 394.6,497.8 395.8,493 397.4,488.6 399.5,484.6 402,481 405,478 408.3,475.4 412,473.4 416.1,472 420.6,471.2 425.3,470.9 430.4,471.3 435.6,472.2 441.1,473.8 446.7,476 452.5,478.8 458.3,482.2 464.1,486.2 468.6,489.7 466.9,488.2 460.5,483.2 454.2,478.9 447.8,475.2 441.6,472.2 435.5,469.8 429.5,468.1 423.8,467 418.3,466.7 413.2,467 408.4,467.9 403.9,469.5 399.9,471.7 396.3,474.5 393.2,477.8 390.5,481.7 388.2,486.1 386.5,490.9 385.2,496.1 384.5,501.7 384.2,507.6 384.4,513.8 385.1,520.2 386.3,526.9 387.9,533.6 390,540.5 392.5,547.5 395.4,554.5 398.7,561.4 402.3,568.3 406.3,575 410.7,581.7 415.3,588.1 420.2,594.3 425.3,600.2 430.6,605.7 436.1,611 441.8,615.8 447.5,620.2 453.3,624.2 459.2,627.6 465,630.5 470.8,632.9 476.5,634.7 482,635.9 487.4,636.5 492.5,636.5 497.4,635.8 502,634.5 506.2,632.6 510.1,630 513.5,626.8 516.5,622.9 519,618.5 521,613.5 522.4,608 523.3,602 523.6,595.6Z" fill="#A87C06" stroke="#1c0d02" stroke-width="0.7"/>
<path d="M467.7,488.9 462.3,484.7 456.2,480.6 450.2,477 444.2,474.1 438.3,471.8 432.6,470.2 427.1,469.2 421.8,468.8 416.9,469.1 412.3,470 408,471.5 404.1,473.6 400.6,476.2 397.6,479.4 395,483.1 392.8,487.3 391.1,491.9 389.9,496.9 389.2,502.3 388.9,508 389.1,513.9 389.7,520.1 390.8,526.4 392.4,533 394.4,539.6 396.7,546.3 399.5,553 402.7,559.6 406.2,566.2 410.1,572.7 414.2,579.1 418.7,585.3 423.4,591.2 428.3,596.8 433.4,602.2 438.7,607.2 444.2,611.8 449.7,616.1 455.3,619.8 460.9,623.1 466.5,625.9 472,628.2 477.5,629.9 482.8,631 487.9,631.6 492.9,631.5 497.6,630.9 501.9,629.6 506,627.7 509.7,625.2 513,622.1 515.8,618.4 518.2,614.1 520.1,609.3 521.5,604 522.3,598.3 522.6,592.1 522.3,585.6 521.5,578.7 520.1,571.6 518.2,564.2 516,557.7 515.6,556.7 517.4,562.1 519.3,569.1 520.6,575.9 521.4,582.4 521.6,588.7 521.4,594.6 520.6,600.1 519.2,605.2 517.4,609.8 515.2,613.9 512.4,617.4 509.3,620.4 505.8,622.8 501.9,624.7 497.7,625.9 493.2,626.6 488.5,626.6 483.6,626.1 478.5,625.1 473.2,623.5 467.9,621.3 462.6,618.7 457.2,615.5 451.8,611.9 446.5,607.9 441.3,603.5 436.2,598.7 431.3,593.5 426.6,588.1 422.1,582.4 417.8,576.5 413.8,570.4 410.1,564.2 406.7,557.9 403.7,551.5 401,545.1 398.8,538.6 396.9,532.3 395.4,526 394.4,519.9 393.8,514 393.6,508.3 393.9,502.9 394.6,497.8 395.8,493 397.4,488.6 399.5,484.6 402,481 405,478 408.3,475.4 412,473.4 416.1,472 420.6,471.2 425.3,470.9 430.4,471.3 435.6,472.2 441.1,473.8 446.7,476 452.5,478.8 458.3,482.2 464.1,486.2 468.6,489.7Z" fill="#CC960E" stroke="#1c0d02" stroke-width="0.7"/>
<path d="M412,473.4 408.3,475.4 405,478 402,481 399.5,484.6 397.4,488.6 395.8,493 394.6,497.8 393.9,502.9 393.6,508.3 393.8,514 394.4,519.9 395.4,526 396.9,532.3 398.8,538.6 401,545.1 403.7,551.5 406.7,557.9 410.1,564.2 413.8,570.4 417.8,576.5 422.1,582.4 426.6,588.1 431.3,593.5 436.2,598.7 441.3,603.5 446.5,607.9 451.8,611.9 457.2,615.5 462.6,618.7 467.9,621.3 473.2,623.5 478.5,625.1 483.6,626.1 488.5,626.6 493.2,626.6 497.7,625.9 501.9,624.7 505.8,622.8 509.3,620.4 512.4,617.4 513.6,615.9 511.6,616.9 507.3,618.2 502.8,618.9 498.1,619 493.2,618.5 488.1,617.5 482.8,615.9 477.5,613.8 472.2,611.2 466.8,608.1 461.4,604.6 456.1,600.6 450.9,596.2 445.9,591.5 441,586.4 436.3,581.1 431.8,575.4 427.5,569.6 423.5,563.5 419.9,557.4 416.5,551.1 413.5,544.7 410.9,538.3 408.7,532 406.8,525.6 405.4,519.4 404.4,513.3 403.8,507.4 403.6,501.8 404,496.4 404.7,491.2 406,486.5 407.6,482.1 409.7,478.1 412.3,474.5 414,472.8Z" fill="#C08E0C" stroke="#1c0d02" stroke-width="0.7"/>
<path d="M509.7,542.9 505.6,535.1 501,527.4 496,520 490.7,512.8 485.1,506 479.2,499.6 473.1,493.6 468.6,489.7 464.1,486.2 458.3,482.2 452.5,478.8 446.7,476 441.1,473.8 435.6,472.2 430.4,471.3 425.3,470.9 420.6,471.2 416.1,472 414,472.8 412.3,474.5 409.7,478.1 407.6,482.1 406,486.5 404.7,491.2 404,496.4 403.6,501.8 403.8,507.4 404.4,513.3 405.4,519.4 406.8,525.6 408.7,532 410.9,538.3 413.5,544.7 416.5,551.1 419.9,557.4 423.5,563.5 427.5,569.6 431.8,575.4 436.3,581.1 441,586.4 445.9,591.5 450.9,596.2 456.1,600.6 461.4,604.6 466.8,608.1 472.2,611.2 477.5,613.8 482.8,615.9 488.1,617.5 493.2,618.5 498.1,619 502.8,618.9 507.3,618.2 511.6,616.9 513.6,615.9 515.2,613.9 517.4,609.8 519.2,605.2 520.6,600.1 521.4,594.6 521.6,588.7 521.4,582.4 520.6,575.9 519.3,569.1 517.4,562.1 515.6,556.7 513.3,550.8Z" fill="none" stroke="#1c0d02" stroke-width="1.3"/>
<path d="M513.3,550.8 509.7,542.9 505.6,535.1 501,527.4 496,520 490.7,512.8 485.1,506 479.2,499.6 473.1,493.6 468.6,489.7 464.1,486.2 458.3,482.2 452.5,478.8 446.7,476 441.1,473.8 435.6,472.2 430.4,471.3 425.3,470.9 420.6,471.2 416.1,472 412,473.4 408.3,475.4 405,478 402,481 399.5,484.6 397.4,488.6 395.8,493 394.6,497.8 393.9,502.9 393.6,508.3 393.8,514 394.4,519.9 395.4,526 396.9,532.3 398.8,538.6 401,545.1 403.7,551.5 406.7,557.9 410.1,564.2 413.8,570.4 417.8,576.5 422.1,582.4 426.6,588.1 431.3,593.5 436.2,598.7 441.3,603.5 446.5,607.9 451.8,611.9 457.2,615.5 462.6,618.7 467.9,621.3 473.2,623.5 478.5,625.1 483.6,626.1 488.5,626.6 493.2,626.6 497.7,625.9 501.9,624.7 505.8,622.8 509.3,620.4 512.4,617.4 515.2,613.9 517.4,609.8 519.2,605.2 520.6,600.1 521.4,594.6 521.6,588.7 521.4,582.4 520.6,575.9 519.3,569.1 517.4,562.1 515.6,556.7Z" fill="none" stroke="#1c0d02" stroke-width="1"/>
<path d="M523.6,595.6 523.3,588.7 522.5,581.6 521,574.1 519,566.5 516.4,558.7 513.3,550.8 509.7,542.9 505.6,535.1 501,527.4 496,520 490.7,512.8 485.1,506 479.2,499.6 473.1,493.6 466.9,488.2 460.5,483.2 454.2,478.9 447.8,475.2 441.6,472.2 435.5,469.8 429.5,468.1 423.8,467 418.3,466.7 413.2,467 408.4,467.9 403.9,469.5 399.9,471.7 396.3,474.5 393.2,477.8 390.5,481.7 388.2,486.1 386.5,490.9 385.2,496.1 384.5,501.7 384.2,507.6 384.4,513.8 385.1,520.2 386.3,526.9 387.9,533.6 390,540.5 392.5,547.5 395.4,554.5 398.7,561.4 402.3,568.3 406.3,575 410.7,581.7 415.3,588.1 420.2,594.3 425.3,600.2 430.6,605.7 436.1,611 441.8,615.8 447.5,620.2 453.3,624.2 459.2,627.6 465,630.5 470.8,632.9 476.5,634.7 482,635.9 487.4,636.5 492.5,636.5 497.4,635.8 502,634.5 506.2,632.6 510.1,630 513.5,626.8 516.5,622.9 519,618.5 521,613.5 522.4,608 523.3,602Z" fill="none" stroke="#1c0d02" stroke-width="1.6"/>
<path d="M354.1,231.9 381.1,585.1 552,694.5 559.7,312.9ZM523,331.1 522.6,510.2 378.9,433.7 366.9,266.2ZM522.4,608 521,613.5 519,618.5 516.5,622.9 513.5,626.8 510.1,630 506.2,632.6 502,634.5 497.4,635.8 492.5,636.5 487.4,636.5 482,635.9 476.5,634.7 470.8,632.9 465,630.5 459.2,627.6 453.3,624.2 447.5,620.2 441.8,615.8 436.1,611 430.6,605.7 425.3,600.2 420.2,594.3 415.3,588.1 410.7,581.7 406.3,575 402.3,568.3 398.7,561.4 395.4,554.5 392.5,547.5 390,540.5 387.9,533.6 386.3,526.9 385.1,520.2 384.4,513.8 384.2,507.6 384.5,501.7 385.2,496.1 386.5,490.9 388.2,486.1 390.5,481.7 393.2,477.8 396.3,474.5 399.9,471.7 403.9,469.5 408.4,467.9 413.2,467 418.3,466.7 423.8,467 429.5,468.1 435.5,469.8 441.6,472.2 447.8,475.2 454.2,478.9 460.5,483.2 466.9,488.2 473.1,493.6 479.2,499.6 485.1,506 490.7,512.8 496,520 501,527.4 505.6,535.1 509.7,542.9 513.3,550.8 516.4,558.7 519,566.5 521,574.1 522.5,581.6 523.3,588.7 523.6,595.6 523.3,602Z" fill="none" stroke="#1c0d02" stroke-width="2.4"/>
<path d="M319.1,289.3 473.4,358.3 483,352.8 328.8,284.8Z" fill="#B08308" stroke="#1c0d02" stroke-width="1"/>
<path d="M473.4,358.3 483,352.8 486.1,533.7 477.4,540Z" fill="#B58708" stroke="#1c0d02" stroke-width="1"/>
<path d="M319.1,289.3 473.4,358.3 477.4,540 335.3,459.2ZM399.8,372.1 399.5,369 399,365.8 398.3,362.6 397.4,359.3 396.3,356 394.9,352.7 393.4,349.5 391.8,346.3 390,343.3 388,340.3 385.9,337.5 383.7,334.9 381.4,332.5 379,330.2 376.6,328.2 374.2,326.4 371.8,324.9 369.3,323.7 366.9,322.7 364.5,322 362.2,321.6 360,321.5 357.9,321.7 355.9,322.1 354,322.8 352.3,323.8 350.7,325.1 349.3,326.6 348.1,328.3 347.1,330.3 346.2,332.4 345.6,334.8 345.1,337.3 344.8,340 344.8,342.8 344.9,345.7 345.3,348.7 345.8,351.8 346.6,354.9 347.5,358 348.6,361.1 349.9,364.2 351.3,367.3 352.9,370.3 354.7,373.2 356.5,376 358.5,378.7 360.6,381.2 362.7,383.6 365,385.8 367.2,387.8 369.6,389.5 371.9,391.1 374.3,392.4 376.6,393.5 379,394.3 381.2,394.8 383.5,395.1 385.6,395.1 387.6,394.8 389.6,394.2 391.4,393.4 393,392.3 394.6,391 395.9,389.3 397.1,387.5 398,385.4 398.8,383.1 399.4,380.6 399.8,377.9 399.9,375.1ZM409.7,453.3 409.4,449.9 408.8,446.4 408,442.8 407,439.1 405.7,435.4 404.2,431.7 402.4,428 400.5,424.4 398.4,420.8 396.2,417.4 393.8,414.2 391.2,411.1 388.6,408.2 385.9,405.5 383.1,403.1 380.3,401 377.5,399.1 374.7,397.6 371.9,396.3 369.2,395.3 366.5,394.7 364,394.4 361.5,394.4 359.2,394.7 357.1,395.4 355.1,396.3 353.3,397.5 351.7,399.1 350.3,400.9 349.1,402.9 348.1,405.2 347.4,407.8 346.8,410.5 346.5,413.4 346.5,416.4 346.7,419.6 347,422.9 347.7,426.3 348.5,429.8 349.6,433.3 350.8,436.8 352.3,440.3 353.9,443.7 355.7,447.1 357.7,450.5 359.8,453.7 362.1,456.8 364.4,459.7 366.9,462.5 369.5,465.1 372.1,467.5 374.7,469.6 377.4,471.5 380.1,473.2 382.8,474.5 385.5,475.6 388.1,476.4 390.7,476.9 393.1,477.1 395.5,477 397.7,476.6 399.8,475.9 401.7,474.8 403.5,473.5 405,471.8 406.4,469.9 407.5,467.7 408.5,465.3 409.1,462.6 409.6,459.7 409.8,456.6Z" fill="#CC960E" fill-rule="evenodd" stroke="#1c0d02" stroke-width="1"/>
<path d="M399.8,372 399.6,374 399.1,376.1 398.4,378 397.6,379.7 396.7,381.3 395.6,382.6 394.3,383.7 392.9,384.7 391.5,385.4 389.9,385.8 388.2,386.1 386.4,386.1 384.6,385.9 382.7,385.5 380.7,384.8 378.8,384 376.8,382.9 374.9,381.6 373,380.1 371,378.5 369.2,376.7 367.4,374.8 365.7,372.7 364,370.4 362.5,368.1 361.1,365.7 359.8,363.2 358.6,360.7 357.5,358.1 356.6,355.5 355.8,352.9 355.2,350.4 354.8,347.8 354.5,345.3 354.4,342.9 354.4,340.6 354.7,338.4 355.1,336.3 355.6,334.4 356.3,332.6 357.2,331 358.2,329.6 359.4,328.3 360.7,327.3 362.2,326.5 363.7,325.9 365.4,325.5 367.1,325.4 369,325.5 370.9,325.8 372.8,326.4 374.8,327.2 376.4,328 374.2,326.4 371.8,324.9 369.3,323.7 366.9,322.7 364.5,322 362.2,321.6 360,321.5 357.9,321.7 355.9,322.1 354,322.8 352.3,323.8 350.7,325.1 349.3,326.6 348.1,328.3 347.1,330.3 346.2,332.4 345.6,334.8 345.1,337.3 344.8,340 344.8,342.8 344.9,345.7 345.3,348.7 345.8,351.8 346.6,354.9 347.5,358 348.6,361.1 349.9,364.2 351.3,367.3 352.9,370.3 354.7,373.2 356.5,376 358.5,378.7 360.6,381.2 362.7,383.6 365,385.8 367.2,387.8 369.6,389.5 371.9,391.1 374.3,392.4 376.6,393.5 379,394.3 381.2,394.8 383.5,395.1 385.6,395.1 387.6,394.8 389.6,394.2 391.4,393.4 393,392.3 394.6,391 395.9,389.3 397.1,387.5 398,385.4 398.8,383.1 399.4,380.6 399.8,377.9 399.9,375.1 399.8,372.1Z" fill="#A87C06" stroke="#1c0d02" stroke-width="0.7"/>
<path d="M375,327 374.3,326.6 372.1,325.5 369.9,324.6 367.7,323.9 365.6,323.6 363.6,323.5 361.6,323.6 359.8,324 358.1,324.7 356.5,325.6 355.1,326.7 353.8,328.1 352.7,329.7 351.7,331.4 350.9,333.4 350.3,335.6 349.9,337.9 349.6,340.3 349.6,342.9 349.7,345.5 350,348.3 350.5,351.1 351.2,353.9 352.1,356.8 353.1,359.6 354.2,362.5 355.5,365.3 357,368 358.6,370.7 360.3,373.2 362.1,375.7 364,378 366,380.2 368,382.1 370.1,384 372.2,385.6 374.4,387 376.5,388.2 378.7,389.1 380.8,389.9 382.9,390.4 384.9,390.6 386.9,390.6 388.7,390.3 390.5,389.8 392.2,389 393.7,388 395.1,386.8 396.3,385.3 397.4,383.6 398.2,381.7 399,379.6 399.5,377.3 399.8,374.8 399.9,373.6 399.8,372.1 399.8,372 399.6,374 399.1,376.1 398.4,378 397.6,379.7 396.7,381.3 395.6,382.6 394.3,383.7 392.9,384.7 391.5,385.4 389.9,385.8 388.2,386.1 386.4,386.1 384.6,385.9 382.7,385.5 380.7,384.8 378.8,384 376.8,382.9 374.9,381.6 373,380.1 371,378.5 369.2,376.7 367.4,374.8 365.7,372.7 364,370.4 362.5,368.1 361.1,365.7 359.8,363.2 358.6,360.7 357.5,358.1 356.6,355.5 355.8,352.9 355.2,350.4 354.8,347.8 354.5,345.3 354.4,342.9 354.4,340.6 354.7,338.4 355.1,336.3 355.6,334.4 356.3,332.6 357.2,331 358.2,329.6 359.4,328.3 360.7,327.3 362.2,326.5 363.7,325.9 365.4,325.5 367.1,325.4 369,325.5 370.9,325.8 372.8,326.4 374.8,327.2 376.4,328Z" fill="#CC960E" stroke="#1c0d02" stroke-width="0.7"/>
<path d="M363.7,325.9 362.2,326.5 360.7,327.3 359.4,328.3 358.2,329.6 357.2,331 356.3,332.6 355.6,334.4 355.1,336.3 354.7,338.4 354.4,340.6 354.4,342.9 354.5,345.3 354.8,347.8 355.2,350.4 355.8,352.9 356.6,355.5 357.5,358.1 358.6,360.7 359.8,363.2 361.1,365.7 362.5,368.1 364,370.4 365.7,372.7 367.4,374.8 369.2,376.7 371,378.5 373,380.1 374.9,381.6 376.8,382.9 378.8,384 380.7,384.8 382.7,385.5 384.6,385.9 386.4,386.1 388.2,386.1 389.9,385.8 391.5,385.4 392.9,384.7 394.3,383.7 394.9,383.2 394.3,383.4 392.6,383.6 390.8,383.7 389,383.5 387.1,383 385.1,382.4 383.2,381.5 381.2,380.5 379.3,379.2 377.4,377.7 375.5,376.1 373.6,374.3 371.8,372.4 370.1,370.3 368.5,368.1 366.9,365.8 365.5,363.4 364.2,360.9 363,358.4 361.9,355.8 361,353.2 360.3,350.6 359.7,348 359.2,345.5 359,343 358.9,340.6 358.9,338.3 359.2,336.1 359.6,334 360.1,332.1 360.8,330.3 361.7,328.7 362.8,327.3 363.9,326 364.3,325.8Z" fill="#C08E0C" stroke="#1c0d02" stroke-width="0.7"/>
<path d="M399,365.8 398.3,362.6 397.4,359.3 396.3,356 394.9,352.7 393.4,349.5 391.8,346.3 390,343.3 388,340.3 385.9,337.5 383.7,334.9 381.4,332.5 379,330.2 376.6,328.2 376.4,328 374.8,327.2 372.8,326.4 370.9,325.8 369,325.5 367.1,325.4 365.4,325.5 364.3,325.8 363.9,326 362.8,327.3 361.7,328.7 360.8,330.3 360.1,332.1 359.6,334 359.2,336.1 358.9,338.3 358.9,340.6 359,343 359.2,345.5 359.7,348 360.3,350.6 361,353.2 361.9,355.8 363,358.4 364.2,360.9 365.5,363.4 366.9,365.8 368.5,368.1 370.1,370.3 371.8,372.4 373.6,374.3 375.5,376.1 377.4,377.7 379.3,379.2 381.2,380.5 383.2,381.5 385.1,382.4 387.1,383 389,383.5 390.8,383.7 392.6,383.6 394.3,383.4 394.9,383.2 395.6,382.6 396.7,381.3 397.6,379.7 398.4,378 399.1,376.1 399.6,374 399.8,372 399.5,369Z" fill="none" stroke="#1c0d02" stroke-width="1.3"/>
<path d="M399.5,369 399,365.8 398.3,362.6 397.4,359.3 396.3,356 394.9,352.7 393.4,349.5 391.8,346.3 390,343.3 388,340.3 385.9,337.5 383.7,334.9 381.4,332.5 379,330.2 376.6,328.2 376.4,328 374.8,327.2 372.8,326.4 370.9,325.8 369,325.5 367.1,325.4 365.4,325.5 363.7,325.9 362.2,326.5 360.7,327.3 359.4,328.3 358.2,329.6 357.2,331 356.3,332.6 355.6,334.4 355.1,336.3 354.7,338.4 354.4,340.6 354.4,342.9 354.5,345.3 354.8,347.8 355.2,350.4 355.8,352.9 356.6,355.5 357.5,358.1 358.6,360.7 359.8,363.2 361.1,365.7 362.5,368.1 364,370.4 365.7,372.7 367.4,374.8 369.2,376.7 371,378.5 373,380.1 374.9,381.6 376.8,382.9 378.8,384 380.7,384.8 382.7,385.5 384.6,385.9 386.4,386.1 388.2,386.1 389.9,385.8 391.5,385.4 392.9,384.7 394.3,383.7 395.6,382.6 396.7,381.3 397.6,379.7 398.4,378 399.1,376.1 399.6,374 399.8,372Z" fill="none" stroke="#1c0d02" stroke-width="1"/>
<path d="M399.8,372.1 399.5,369 399,365.8 398.3,362.6 397.4,359.3 396.3,356 394.9,352.7 393.4,349.5 391.8,346.3 390,343.3 388,340.3 385.9,337.5 383.7,334.9 381.4,332.5 379,330.2 376.6,328.2 374.2,326.4 371.8,324.9 369.3,323.7 366.9,322.7 364.5,322 362.2,321.6 360,321.5 357.9,321.7 355.9,322.1 354,322.8 352.3,323.8 350.7,325.1 349.3,326.6 348.1,328.3 347.1,330.3 346.2,332.4 345.6,334.8 345.1,337.3 344.8,340 344.8,342.8 344.9,345.7 345.3,348.7 345.8,351.8 346.6,354.9 347.5,358 348.6,361.1 349.9,364.2 351.3,367.3 352.9,370.3 354.7,373.2 356.5,376 358.5,378.7 360.6,381.2 362.7,383.6 365,385.8 367.2,387.8 369.6,389.5 371.9,391.1 374.3,392.4 376.6,393.5 379,394.3 381.2,394.8 383.5,395.1 385.6,395.1 387.6,394.8 389.6,394.2 391.4,393.4 393,392.3 394.6,391 395.9,389.3 397.1,387.5 398,385.4 398.8,383.1 399.4,380.6 399.8,377.9 399.9,375.1Z" fill="none" stroke="#1c0d02" stroke-width="1.6"/>
<path d="M409.6,452.7 409.6,453.3 409.2,455.8 408.7,458 407.9,460.1 406.9,462 405.8,463.7 404.4,465.1 402.9,466.2 401.3,467.2 399.5,467.8 397.6,468.2 395.6,468.3 393.5,468.1 391.3,467.7 389.1,467.1 386.8,466.1 384.5,465 382.1,463.6 379.8,462 377.5,460.1 375.3,458.1 373.1,455.9 371,453.6 369,451 367,448.4 365.2,445.6 363.5,442.8 362,439.9 360.6,436.9 359.3,433.9 358.3,430.9 357.4,427.9 356.7,425 356.1,422.1 355.8,419.2 355.7,416.5 355.8,413.9 356,411.4 356.5,409.1 357.1,407 358,405 359,403.3 360.3,401.7 361.6,400.4 363.2,399.4 364.9,398.6 366.7,398 368.7,397.8 370.8,397.8 373,398 375.3,398.6 377.6,399.4 378.6,399.9 377.5,399.1 374.7,397.6 371.9,396.3 369.2,395.3 366.5,394.7 364,394.4 361.5,394.4 359.2,394.7 357.1,395.4 355.1,396.3 353.3,397.5 351.7,399.1 350.3,400.9 349.1,402.9 348.1,405.2 347.4,407.8 346.8,410.5 346.5,413.4 346.5,416.4 346.7,419.6 347,422.9 347.7,426.3 348.5,429.8 349.6,433.3 350.8,436.8 352.3,440.3 353.9,443.7 355.7,447.1 357.7,450.5 359.8,453.7 362.1,456.8 364.4,459.7 366.9,462.5 369.5,465.1 372.1,467.5 374.7,469.6 377.4,471.5 380.1,473.2 382.8,474.5 385.5,475.6 388.1,476.4 390.7,476.9 393.1,477.1 395.5,477 397.7,476.6 399.8,475.9 401.7,474.8 403.5,473.5 405,471.8 406.4,469.9 407.5,467.7 408.5,465.3 409.1,462.6 409.6,459.7 409.8,456.6 409.7,453.3Z" fill="#A87C06" stroke="#1c0d02" stroke-width="0.7"/>
<path d="M377.5,399.1 377.2,399 374.7,397.8 372.2,397 369.8,396.4 367.4,396.1 365.1,396.1 363,396.4 361,397 359.2,397.8 357.5,399 356,400.4 354.7,402.1 353.5,404 352.6,406.1 351.9,408.4 351.4,410.9 351.1,413.6 351.1,416.5 351.2,419.4 351.6,422.5 352.2,425.6 352.9,428.8 353.9,432.1 355.1,435.3 356.4,438.6 358,441.8 359.6,445 361.5,448.1 363.4,451 365.5,453.9 367.7,456.6 370,459.2 372.4,461.6 374.8,463.8 377.3,465.8 379.8,467.6 382.3,469.1 384.8,470.3 387.3,471.3 389.7,472.1 392.1,472.5 394.4,472.7 396.5,472.6 398.6,472.2 400.5,471.5 402.3,470.5 404,469.3 405.4,467.7 406.7,466 407.7,463.9 408.6,461.6 409.2,459.2 409.6,456.5 409.7,454.4 409.7,453.3 409.6,452.7 409.6,453.3 409.2,455.8 408.7,458 407.9,460.1 406.9,462 405.8,463.7 404.4,465.1 402.9,466.2 401.3,467.2 399.5,467.8 397.6,468.2 395.6,468.3 393.5,468.1 391.3,467.7 389.1,467.1 386.8,466.1 384.5,465 382.1,463.6 379.8,462 377.5,460.1 375.3,458.1 373.1,455.9 371,453.6 369,451 367,448.4 365.2,445.6 363.5,442.8 362,439.9 360.6,436.9 359.3,433.9 358.3,430.9 357.4,427.9 356.7,425 356.1,422.1 355.8,419.2 355.7,416.5 355.8,413.9 356,411.4 356.5,409.1 357.1,407 358,405 359,403.3 360.3,401.7 361.6,400.4 363.2,399.4 364.9,398.6 366.7,398 368.7,397.8 370.8,397.8 373,398 375.3,398.6 377.6,399.4 378.6,399.9Z" fill="#CC960E" stroke="#1c0d02" stroke-width="0.7"/>
<path d="M364.9,398.6 363.2,399.4 361.6,400.4 360.3,401.7 359,403.3 358,405 357.1,407 356.5,409.1 356,411.4 355.8,413.9 355.7,416.5 355.8,419.2 356.1,422.1 356.7,425 357.4,427.9 358.3,430.9 359.3,433.9 360.6,436.9 362,439.9 363.5,442.8 365.2,445.6 367,448.4 369,451 371,453.6 373.1,455.9 375.3,458.1 377.5,460.1 379.8,462 382.1,463.6 384.5,465 386.8,466.1 389.1,467.1 391.3,467.7 393.5,468.1 395.6,468.3 397.6,468.2 399.5,467.8 401.3,467.2 402.9,466.2 404.4,465.1 404.7,464.8 403.7,465.2 401.8,465.6 399.8,465.7 397.7,465.5 395.5,465.1 393.3,464.5 391,463.6 388.7,462.4 386.3,461 384,459.4 381.8,457.6 379.5,455.6 377.3,453.4 375.2,451 373.2,448.5 371.3,445.9 369.4,443.1 367.8,440.3 366.2,437.4 364.8,434.4 363.6,431.5 362.5,428.5 361.6,425.5 360.9,422.5 360.4,419.6 360.1,416.8 360,414.1 360,411.5 360.3,409 360.8,406.7 361.5,404.5 362.3,402.6 363.4,400.8 364.6,399.3 365.6,398.4Z" fill="#C08E0C" stroke="#1c0d02" stroke-width="0.7"/>
<path d="M408.8,446.4 408,442.8 407,439.1 405.7,435.4 404.2,431.7 402.4,428 400.5,424.4 398.4,420.8 396.2,417.4 393.8,414.2 391.2,411.1 388.6,408.2 385.9,405.5 383.1,403.1 380.3,401 378.6,399.9 377.6,399.4 375.3,398.6 373,398 370.8,397.8 368.7,397.8 366.7,398 365.6,398.4 364.6,399.3 363.4,400.8 362.3,402.6 361.5,404.5 360.8,406.7 360.3,409 360,411.5 360,414.1 360.1,416.8 360.4,419.6 360.9,422.5 361.6,425.5 362.5,428.5 363.6,431.5 364.8,434.4 366.2,437.4 367.8,440.3 369.4,443.1 371.3,445.9 373.2,448.5 375.2,451 377.3,453.4 379.5,455.6 381.8,457.6 384,459.4 386.3,461 388.7,462.4 391,463.6 393.3,464.5 395.5,465.1 397.7,465.5 399.8,465.7 401.8,465.6 403.7,465.2 404.7,464.8 405.8,463.7 406.9,462 407.9,460.1 408.7,458 409.2,455.8 409.6,453.3 409.6,452.7 409.4,449.9Z" fill="none" stroke="#1c0d02" stroke-width="1.3"/>
<path d="M409.4,449.9 408.8,446.4 408,442.8 407,439.1 405.7,435.4 404.2,431.7 402.4,428 400.5,424.4 398.4,420.8 396.2,417.4 393.8,414.2 391.2,411.1 388.6,408.2 385.9,405.5 383.1,403.1 380.3,401 378.6,399.9 377.6,399.4 375.3,398.6 373,398 370.8,397.8 368.7,397.8 366.7,398 364.9,398.6 363.2,399.4 361.6,400.4 360.3,401.7 359,403.3 358,405 357.1,407 356.5,409.1 356,411.4 355.8,413.9 355.7,416.5 355.8,419.2 356.1,422.1 356.7,425 357.4,427.9 358.3,430.9 359.3,433.9 360.6,436.9 362,439.9 363.5,442.8 365.2,445.6 367,448.4 369,451 371,453.6 373.1,455.9 375.3,458.1 377.5,460.1 379.8,462 382.1,463.6 384.5,465 386.8,466.1 389.1,467.1 391.3,467.7 393.5,468.1 395.6,468.3 397.6,468.2 399.5,467.8 401.3,467.2 402.9,466.2 404.4,465.1 405.8,463.7 406.9,462 407.9,460.1 408.7,458 409.2,455.8 409.6,453.3 409.6,452.7Z" fill="none" stroke="#1c0d02" stroke-width="1"/>
<path d="M409.7,453.3 409.4,449.9 408.8,446.4 408,442.8 407,439.1 405.7,435.4 404.2,431.7 402.4,428 400.5,424.4 398.4,420.8 396.2,417.4 393.8,414.2 391.2,411.1 388.6,408.2 385.9,405.5 383.1,403.1 380.3,401 377.5,399.1 374.7,397.6 371.9,396.3 369.2,395.3 366.5,394.7 364,394.4 361.5,394.4 359.2,394.7 357.1,395.4 355.1,396.3 353.3,397.5 351.7,399.1 350.3,400.9 349.1,402.9 348.1,405.2 347.4,407.8 346.8,410.5 346.5,413.4 346.5,416.4 346.7,419.6 347,422.9 347.7,426.3 348.5,429.8 349.6,433.3 350.8,436.8 352.3,440.3 353.9,443.7 355.7,447.1 357.7,450.5 359.8,453.7 362.1,456.8 364.4,459.7 366.9,462.5 369.5,465.1 372.1,467.5 374.7,469.6 377.4,471.5 380.1,473.2 382.8,474.5 385.5,475.6 388.1,476.4 390.7,476.9 393.1,477.1 395.5,477 397.7,476.6 399.8,475.9 401.7,474.8 403.5,473.5 405,471.8 406.4,469.9 407.5,467.7 408.5,465.3 409.1,462.6 409.6,459.7 409.8,456.6Z" fill="none" stroke="#1c0d02" stroke-width="1.6"/>
<path d="M328.8,284.8 319.1,289.3 335.3,459.2 477.4,540 486.1,533.7 483,352.8ZM399.8,377.9 399.4,380.6 398.8,383.1 398,385.4 397.1,387.5 395.9,389.3 394.6,391 393,392.3 391.4,393.4 389.6,394.2 387.6,394.8 385.6,395.1 383.5,395.1 381.2,394.8 379,394.3 376.6,393.5 374.3,392.4 371.9,391.1 369.6,389.5 367.2,387.8 365,385.8 362.7,383.6 360.6,381.2 358.5,378.7 356.5,376 354.7,373.2 352.9,370.3 351.3,367.3 349.9,364.2 348.6,361.1 347.5,358 346.6,354.9 345.8,351.8 345.3,348.7 344.9,345.7 344.8,342.8 344.8,340 345.1,337.3 345.6,334.8 346.2,332.4 347.1,330.3 348.1,328.3 349.3,326.6 350.7,325.1 352.3,323.8 354,322.8 355.9,322.1 357.9,321.7 360,321.5 362.2,321.6 364.5,322 366.9,322.7 369.3,323.7 371.8,324.9 374.2,326.4 376.6,328.2 379,330.2 381.4,332.5 383.7,334.9 385.9,337.5 388,340.3 390,343.3 391.8,346.3 393.4,349.5 394.9,352.7 396.3,356 397.4,359.3 398.3,362.6 399,365.8 399.5,369 399.8,372.1 399.9,375.1ZM409.6,459.7 409.1,462.6 408.5,465.3 407.5,467.7 406.4,469.9 405,471.8 403.5,473.5 401.7,474.8 399.8,475.9 397.7,476.6 395.5,477 393.1,477.1 390.7,476.9 388.1,476.4 385.5,475.6 382.8,474.5 380.1,473.2 377.4,471.5 374.7,469.6 372.1,467.5 369.5,465.1 366.9,462.5 364.4,459.7 362.1,456.8 359.8,453.7 357.7,450.5 355.7,447.1 353.9,443.7 352.3,440.3 350.8,436.8 349.6,433.3 348.5,429.8 347.7,426.3 347,422.9 346.7,419.6 346.5,416.4 346.5,413.4 346.8,410.5 347.4,407.8 348.1,405.2 349.1,402.9 350.3,400.9 351.7,399.1 353.3,397.5 355.1,396.3 357.1,395.4 359.2,394.7 361.5,394.4 364,394.4 366.5,394.7 369.2,395.3 371.9,396.3 374.7,397.6 377.5,399.1 380.3,401 383.1,403.1 385.9,405.5 388.6,408.2 391.2,411.1 393.8,414.2 396.2,417.4 398.4,420.8 400.5,424.4 402.4,428 404.2,431.7 405.7,435.4 407,439.1 408,442.8 408.8,446.4 409.4,449.9 409.7,453.3 409.8,456.6Z" fill="none" stroke="#1c0d02" stroke-width="2.2"/>
<path d="M631.3,9 L630,60" stroke="#3c3c3c" stroke-width="1" fill="none"/>
<path d="M836,45 L827.8,101" stroke="#3c3c3c" stroke-width="1" fill="none"/>
<path d="M631,14 L677,21.5" stroke="#3c3c3c" stroke-width="1" fill="none"/>
<path d="M778,41 L835,52.5" stroke="#3c3c3c" stroke-width="1" fill="none"/>
<path d="M626.5,19 L636,8.5" stroke="#3c3c3c" stroke-width="2.2" fill="none"/>
<path d="M828.5,58 L841,45" stroke="#3c3c3c" stroke-width="2.2" fill="none"/>
<path d="M877,178 L940.5,193.5" stroke="#3c3c3c" stroke-width="1" fill="none"/>
<path d="M937,192.5 L904.6,366" stroke="#3c3c3c" stroke-width="1" fill="none"/>
<path d="M898.6,396 L870.7,536" stroke="#3c3c3c" stroke-width="1" fill="none"/>
<path d="M931,185 L943.5,201" stroke="#3c3c3c" stroke-width="2.2" fill="none"/>
<path d="M864.1,529 L876,546.5" stroke="#3c3c3c" stroke-width="2.6" fill="none"/>
<path d="M821.8,516.4 L869.7,537" stroke="#3c3c3c" stroke-width="1" fill="none"/>
<path d="M869.7,539 L848.8,562" stroke="#3c3c3c" stroke-width="1" fill="none"/>
<path d="M819.8,592.8 L794.9,619.8" stroke="#3c3c3c" stroke-width="1" fill="none"/>
<path d="M789.6,614 L796.2,628.2" stroke="#3c3c3c" stroke-width="2.6" fill="none"/>
<path d="M742,596.2 L793,620" stroke="#3c3c3c" stroke-width="1" fill="none"/>
<text x="678.3" y="39" font-size="19.5" fill="#3c3c3c" textLength="98.9" lengthAdjust="spacingAndGlyphs">400,00mm</text>
<text x="851.3" y="388.8" font-size="19.5" fill="#3c3c3c" textLength="98.2" lengthAdjust="spacingAndGlyphs">702,00mm</text>
<text x="785.1" y="584.8" font-size="19.5" fill="#3c3c3c" textLength="96.9" lengthAdjust="spacingAndGlyphs">300,00mm</text>
<rect x="5" y="627" width="48" height="47.5" rx="3.5" fill="#586c86"/>
<text x="0" y="0" transform="translate(8.5,659.6) scale(0.83,1)" font-size="38.3" font-weight="bold" fill="#62acee" stroke="#62acee" stroke-width="1.7" stroke-linejoin="miter">L</text>
<text x="0" y="0" transform="translate(27.0,670.0) scale(0.93,1)" font-size="40.6" font-weight="bold" fill="#62acee" stroke="#62acee" stroke-width="1.7" stroke-linejoin="miter">F</text>
<text x="4.2" y="690" font-size="17.6" font-weight="bold" fill="#5a6a82" textLength="225.3" lengthAdjust="spacingAndGlyphs">LautsprecherForum.eu</text>
</svg>
</body></html>
